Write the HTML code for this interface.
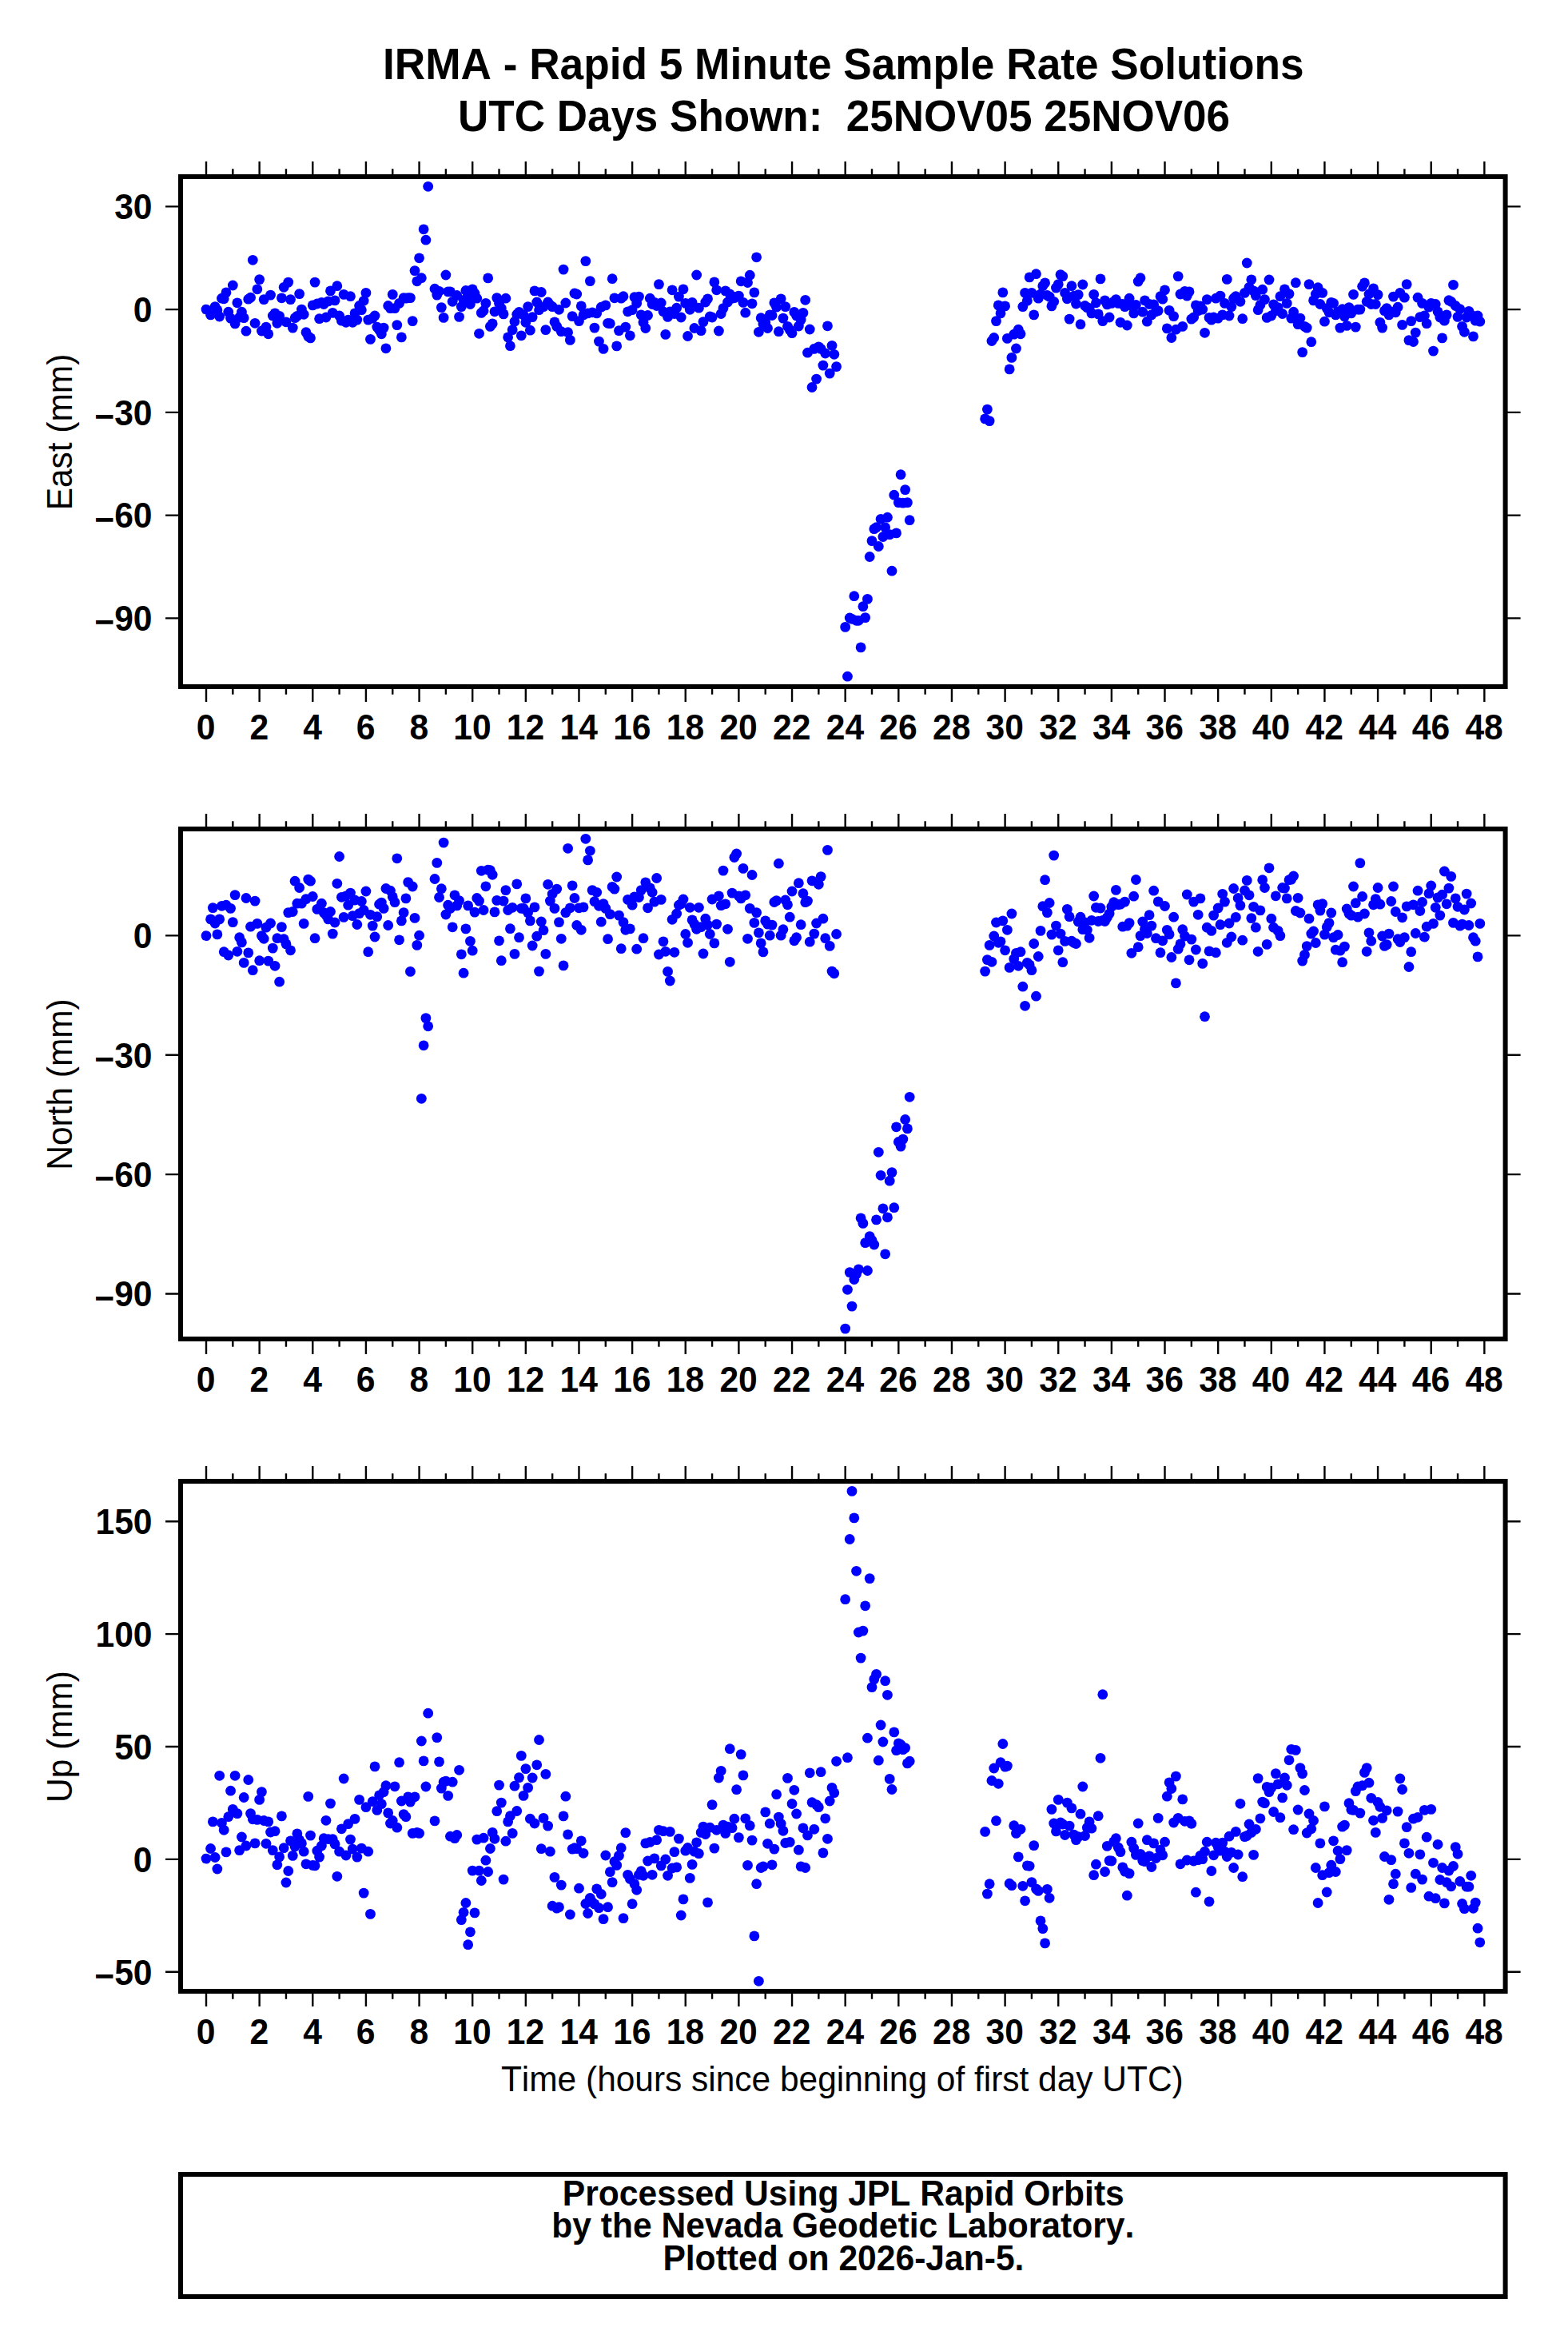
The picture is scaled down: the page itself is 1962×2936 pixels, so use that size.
<!DOCTYPE html>
<html lang="en"><head><meta charset="utf-8"><title>IRMA - Rapid 5 Minute Sample Rate Solutions</title>
<style>
html,body{margin:0;padding:0;background:#fff}
svg{display:block}
text{font-family:"Liberation Sans",Arial,Helvetica,sans-serif;fill:#000;font-kerning:none}
.b{font-weight:bold}
.a{font-size:42.6px;font-weight:bold}
.l{font-size:42.45px}
.t{font-size:53.2px;font-weight:bold}
.k{stroke:#000;stroke-width:2.4;fill:none}
.fr{stroke:#000;stroke-width:6;fill:none;stroke-linejoin:miter}
.p circle{fill:#00f}
</style></head>
<body>
<svg width="1962" height="2936" viewBox="0 0 1962 2936">
<rect width="1962" height="2936" fill="#fff"/>
<g text-anchor="middle"><text class="t" transform="translate(1055.3 99.3) scale(1 1.04)">IRMA - Rapid 5 Minute Sample Rate Solutions</text>
<text class="t" xml:space="preserve" style="font-size:53px" transform="translate(1056 163.7) scale(1 1.04)">UTC Days Shown:  25NOV05 25NOV06</text></g>
<g id="panel1">
<g class="p"><circle cx="258" cy="387.1" r="6.4"/><circle cx="263.55" cy="393.9" r="6.4"/><circle cx="269.11" cy="383.6" r="6.4"/><circle cx="271.88" cy="387.7" r="6.4"/><circle cx="274.66" cy="396" r="6.4"/><circle cx="277.44" cy="373.2" r="6.4"/><circle cx="280.21" cy="373.8" r="6.4"/><circle cx="282.99" cy="365.9" r="6.4"/><circle cx="291.32" cy="357" r="6.4"/><circle cx="285.77" cy="390.2" r="6.4"/><circle cx="288.54" cy="398.1" r="6.4"/><circle cx="294.1" cy="404.9" r="6.4"/><circle cx="296.87" cy="378.8" r="6.4"/><circle cx="299.65" cy="397" r="6.4"/><circle cx="302.43" cy="390.2" r="6.4"/><circle cx="305.2" cy="397.7" r="6.4"/><circle cx="307.98" cy="414.2" r="6.4"/><circle cx="310.76" cy="374.2" r="6.4"/><circle cx="313.53" cy="372.2" r="6.4"/><circle cx="316.31" cy="325.3" r="6.4"/><circle cx="319.09" cy="404.3" r="6.4"/><circle cx="321.86" cy="361.8" r="6.4"/><circle cx="324.64" cy="349.6" r="6.4"/><circle cx="327.42" cy="414" r="6.4"/><circle cx="330.19" cy="374.6" r="6.4"/><circle cx="332.97" cy="409.1" r="6.4"/><circle cx="335.75" cy="417.8" r="6.4"/><circle cx="338.52" cy="369.1" r="6.4"/><circle cx="341.3" cy="395" r="6.4"/><circle cx="344.08" cy="391.9" r="6.4"/><circle cx="346.85" cy="404.3" r="6.4"/><circle cx="349.63" cy="395.4" r="6.4"/><circle cx="352.41" cy="372.8" r="6.4"/><circle cx="355.18" cy="359.3" r="6.4"/><circle cx="357.96" cy="402.8" r="6.4"/><circle cx="360.74" cy="353.1" r="6.4"/><circle cx="363.51" cy="374.6" r="6.4"/><circle cx="366.29" cy="410.1" r="6.4"/><circle cx="369.07" cy="397.7" r="6.4"/><circle cx="371.84" cy="395.4" r="6.4"/><circle cx="374.62" cy="367.6" r="6.4"/><circle cx="377.4" cy="387.1" r="6.4"/><circle cx="380.17" cy="393.3" r="6.4"/><circle cx="382.95" cy="415.7" r="6.4"/><circle cx="385.73" cy="420.9" r="6.4"/><circle cx="388.5" cy="422.9" r="6.4"/><circle cx="391.28" cy="381.9" r="6.4"/><circle cx="394.06" cy="353.1" r="6.4"/><circle cx="396.83" cy="380" r="6.4"/><circle cx="399.61" cy="398.7" r="6.4"/><circle cx="402.39" cy="378.4" r="6.4"/><circle cx="405.16" cy="380.5" r="6.4"/><circle cx="407.94" cy="397" r="6.4"/><circle cx="410.72" cy="376.9" r="6.4"/><circle cx="413.49" cy="363.9" r="6.4"/><circle cx="416.27" cy="391.4" r="6.4"/><circle cx="419.05" cy="375.9" r="6.4"/><circle cx="421.82" cy="357.7" r="6.4"/><circle cx="424.6" cy="395" r="6.4"/><circle cx="427.38" cy="401.2" r="6.4"/><circle cx="430.15" cy="368.4" r="6.4"/><circle cx="432.93" cy="403.3" r="6.4"/><circle cx="435.71" cy="400.1" r="6.4"/><circle cx="438.48" cy="370.7" r="6.4"/><circle cx="441.26" cy="403.3" r="6.4"/><circle cx="444.04" cy="391.9" r="6.4"/><circle cx="446.81" cy="400.1" r="6.4"/><circle cx="449.59" cy="382.5" r="6.4"/><circle cx="452.37" cy="387.7" r="6.4"/><circle cx="455.14" cy="376.3" r="6.4"/><circle cx="457.92" cy="366.4" r="6.4"/><circle cx="460.7" cy="400.1" r="6.4"/><circle cx="463.47" cy="424.4" r="6.4"/><circle cx="466.25" cy="398.1" r="6.4"/><circle cx="469.03" cy="395" r="6.4"/><circle cx="471.8" cy="409.1" r="6.4"/><circle cx="474.58" cy="412.6" r="6.4"/><circle cx="477.36" cy="417.8" r="6.4"/><circle cx="480.13" cy="410.1" r="6.4"/><circle cx="482.91" cy="435.8" r="6.4"/><circle cx="485.69" cy="382.5" r="6.4"/><circle cx="488.46" cy="385.6" r="6.4"/><circle cx="491.24" cy="368.4" r="6.4"/><circle cx="494.02" cy="385.6" r="6.4"/><circle cx="496.79" cy="406.6" r="6.4"/><circle cx="499.57" cy="379.4" r="6.4"/><circle cx="502.35" cy="421.9" r="6.4"/><circle cx="505.12" cy="372.6" r="6.4"/><circle cx="507.9" cy="373.2" r="6.4"/><circle cx="510.68" cy="372.6" r="6.4"/><circle cx="513.45" cy="372.6" r="6.4"/><circle cx="516.23" cy="401.6" r="6.4"/><circle cx="519.01" cy="338.6" r="6.4"/><circle cx="521.78" cy="351.8" r="6.4"/><circle cx="524.56" cy="322.8" r="6.4"/><circle cx="527.34" cy="347.7" r="6.4"/><circle cx="530.11" cy="286.8" r="6.4"/><circle cx="532.89" cy="300.2" r="6.4"/><circle cx="535.67" cy="233.3" r="6.4"/><circle cx="544" cy="361.2" r="6.4"/><circle cx="546.77" cy="369.1" r="6.4"/><circle cx="549.55" cy="364.3" r="6.4"/><circle cx="552.33" cy="384.6" r="6.4"/><circle cx="555.1" cy="397.4" r="6.4"/><circle cx="557.88" cy="344" r="6.4"/><circle cx="560.66" cy="364.9" r="6.4"/><circle cx="563.43" cy="364.9" r="6.4"/><circle cx="566.21" cy="377.3" r="6.4"/><circle cx="571.76" cy="369.5" r="6.4"/><circle cx="574.54" cy="396.4" r="6.4"/><circle cx="577.32" cy="383.6" r="6.4"/><circle cx="580.09" cy="375.3" r="6.4"/><circle cx="582.87" cy="363.5" r="6.4"/><circle cx="585.65" cy="371.1" r="6.4"/><circle cx="588.42" cy="380.5" r="6.4"/><circle cx="591.2" cy="361.8" r="6.4"/><circle cx="593.98" cy="367" r="6.4"/><circle cx="596.75" cy="373.2" r="6.4"/><circle cx="599.53" cy="417.3" r="6.4"/><circle cx="602.31" cy="391.4" r="6.4"/><circle cx="605.08" cy="388.7" r="6.4"/><circle cx="607.86" cy="379.4" r="6.4"/><circle cx="610.64" cy="347.9" r="6.4"/><circle cx="613.41" cy="408.4" r="6.4"/><circle cx="616.19" cy="404.9" r="6.4"/><circle cx="618.97" cy="389.8" r="6.4"/><circle cx="621.74" cy="372.6" r="6.4"/><circle cx="624.52" cy="379.4" r="6.4"/><circle cx="627.3" cy="385.6" r="6.4"/><circle cx="630.07" cy="392.9" r="6.4"/><circle cx="632.85" cy="373.2" r="6.4"/><circle cx="635.63" cy="421.9" r="6.4"/><circle cx="638.4" cy="432.7" r="6.4"/><circle cx="641.18" cy="412.6" r="6.4"/><circle cx="643.96" cy="402.2" r="6.4"/><circle cx="646.73" cy="393.3" r="6.4"/><circle cx="649.51" cy="390.4" r="6.4"/><circle cx="652.29" cy="419.8" r="6.4"/><circle cx="655.06" cy="393.9" r="6.4"/><circle cx="657.84" cy="403.3" r="6.4"/><circle cx="660.62" cy="383.6" r="6.4"/><circle cx="663.39" cy="413.2" r="6.4"/><circle cx="666.17" cy="396.6" r="6.4"/><circle cx="668.95" cy="363.9" r="6.4"/><circle cx="671.72" cy="378" r="6.4"/><circle cx="674.5" cy="387.7" r="6.4"/><circle cx="677.28" cy="365.5" r="6.4"/><circle cx="680.05" cy="383.6" r="6.4"/><circle cx="682.83" cy="412.6" r="6.4"/><circle cx="685.61" cy="378" r="6.4"/><circle cx="688.38" cy="381.5" r="6.4"/><circle cx="691.16" cy="383.6" r="6.4"/><circle cx="693.94" cy="402.8" r="6.4"/><circle cx="696.71" cy="408.4" r="6.4"/><circle cx="699.49" cy="387.3" r="6.4"/><circle cx="702.27" cy="414.7" r="6.4"/><circle cx="705.04" cy="337.1" r="6.4"/><circle cx="707.82" cy="379" r="6.4"/><circle cx="710.6" cy="415.7" r="6.4"/><circle cx="713.37" cy="425.4" r="6.4"/><circle cx="716.15" cy="395.6" r="6.4"/><circle cx="718.93" cy="367" r="6.4"/><circle cx="721.7" cy="368" r="6.4"/><circle cx="724.48" cy="401.6" r="6.4"/><circle cx="727.26" cy="382.9" r="6.4"/><circle cx="730.03" cy="393.9" r="6.4"/><circle cx="732.81" cy="326.6" r="6.4"/><circle cx="735.59" cy="391.9" r="6.4"/><circle cx="738.36" cy="351.6" r="6.4"/><circle cx="741.14" cy="390.8" r="6.4"/><circle cx="743.92" cy="410.1" r="6.4"/><circle cx="746.69" cy="391.9" r="6.4"/><circle cx="749.47" cy="427.1" r="6.4"/><circle cx="752.25" cy="384.2" r="6.4"/><circle cx="755.02" cy="436.4" r="6.4"/><circle cx="757.8" cy="381.9" r="6.4"/><circle cx="760.58" cy="404.3" r="6.4"/><circle cx="763.35" cy="404.7" r="6.4"/><circle cx="766.13" cy="348.7" r="6.4"/><circle cx="768.91" cy="372.8" r="6.4"/><circle cx="771.68" cy="432.9" r="6.4"/><circle cx="774.46" cy="413.6" r="6.4"/><circle cx="777.24" cy="373.2" r="6.4"/><circle cx="780.01" cy="370.7" r="6.4"/><circle cx="782.79" cy="409.1" r="6.4"/><circle cx="785.57" cy="389.8" r="6.4"/><circle cx="788.34" cy="419.8" r="6.4"/><circle cx="791.12" cy="387.7" r="6.4"/><circle cx="793.9" cy="371.7" r="6.4"/><circle cx="796.67" cy="379.4" r="6.4"/><circle cx="799.45" cy="371.1" r="6.4"/><circle cx="802.23" cy="393.9" r="6.4"/><circle cx="805" cy="403.3" r="6.4"/><circle cx="807.78" cy="410.5" r="6.4"/><circle cx="810.56" cy="394.5" r="6.4"/><circle cx="813.33" cy="373.2" r="6.4"/><circle cx="816.11" cy="380.5" r="6.4"/><circle cx="818.89" cy="378.4" r="6.4"/><circle cx="821.66" cy="382.5" r="6.4"/><circle cx="824.44" cy="355.6" r="6.4"/><circle cx="827.22" cy="379" r="6.4"/><circle cx="829.99" cy="389.8" r="6.4"/><circle cx="832.77" cy="418.4" r="6.4"/><circle cx="835.55" cy="396.4" r="6.4"/><circle cx="838.32" cy="389.8" r="6.4"/><circle cx="841.1" cy="362.8" r="6.4"/><circle cx="843.88" cy="392.5" r="6.4"/><circle cx="846.65" cy="385.2" r="6.4"/><circle cx="849.43" cy="371.1" r="6.4"/><circle cx="852.21" cy="397" r="6.4"/><circle cx="854.98" cy="361.8" r="6.4"/><circle cx="857.76" cy="379.4" r="6.4"/><circle cx="860.54" cy="420.5" r="6.4"/><circle cx="863.31" cy="387.3" r="6.4"/><circle cx="866.09" cy="378.4" r="6.4"/><circle cx="868.87" cy="410.5" r="6.4"/><circle cx="871.64" cy="344" r="6.4"/><circle cx="874.42" cy="385.2" r="6.4"/><circle cx="877.2" cy="413.6" r="6.4"/><circle cx="879.97" cy="402.6" r="6.4"/><circle cx="882.75" cy="378" r="6.4"/><circle cx="885.53" cy="373.8" r="6.4"/><circle cx="888.3" cy="396" r="6.4"/><circle cx="891.08" cy="397" r="6.4"/><circle cx="893.86" cy="352.9" r="6.4"/><circle cx="896.63" cy="362.8" r="6.4"/><circle cx="899.41" cy="414" r="6.4"/><circle cx="902.19" cy="392.5" r="6.4"/><circle cx="904.96" cy="385.6" r="6.4"/><circle cx="907.74" cy="363.9" r="6.4"/><circle cx="910.52" cy="378" r="6.4"/><circle cx="913.29" cy="368" r="6.4"/><circle cx="916.07" cy="373.2" r="6.4"/><circle cx="918.85" cy="372.6" r="6.4"/><circle cx="921.62" cy="371.1" r="6.4"/><circle cx="924.4" cy="370.1" r="6.4"/><circle cx="927.18" cy="351.8" r="6.4"/><circle cx="929.95" cy="378.4" r="6.4"/><circle cx="932.73" cy="391.2" r="6.4"/><circle cx="935.51" cy="353.5" r="6.4"/><circle cx="938.28" cy="344.2" r="6.4"/><circle cx="941.06" cy="379.8" r="6.4"/><circle cx="943.84" cy="365.9" r="6.4"/><circle cx="946.61" cy="321.8" r="6.4"/><circle cx="949.39" cy="415.3" r="6.4"/><circle cx="952.17" cy="397.7" r="6.4"/><circle cx="954.94" cy="405.3" r="6.4"/><circle cx="957.72" cy="403.3" r="6.4"/><circle cx="960.5" cy="410.5" r="6.4"/><circle cx="963.27" cy="393.9" r="6.4"/><circle cx="966.05" cy="394.5" r="6.4"/><circle cx="968.83" cy="378.8" r="6.4"/><circle cx="971.6" cy="384.2" r="6.4"/><circle cx="974.38" cy="414.7" r="6.4"/><circle cx="977.16" cy="373.8" r="6.4"/><circle cx="979.93" cy="398.1" r="6.4"/><circle cx="982.71" cy="383.6" r="6.4"/><circle cx="985.49" cy="408.4" r="6.4"/><circle cx="988.26" cy="412.6" r="6.4"/><circle cx="991.04" cy="416.7" r="6.4"/><circle cx="993.82" cy="390.4" r="6.4"/><circle cx="996.59" cy="395" r="6.4"/><circle cx="999.37" cy="408" r="6.4"/><circle cx="1002.15" cy="400.1" r="6.4"/><circle cx="1004.92" cy="391.4" r="6.4"/><circle cx="1007.7" cy="375.3" r="6.4"/><circle cx="1010.48" cy="441.2" r="6.4"/><circle cx="1013.25" cy="412" r="6.4"/><circle cx="1016.03" cy="484.5" r="6.4"/><circle cx="1018.81" cy="436.4" r="6.4"/><circle cx="1021.58" cy="474.1" r="6.4"/><circle cx="1024.36" cy="433.9" r="6.4"/><circle cx="1027.14" cy="436.4" r="6.4"/><circle cx="1029.91" cy="457.1" r="6.4"/><circle cx="1032.69" cy="442" r="6.4"/><circle cx="1035.47" cy="407.8" r="6.4"/><circle cx="1038.24" cy="467.1" r="6.4"/><circle cx="1041.02" cy="432.3" r="6.4"/><circle cx="1043.8" cy="443.3" r="6.4"/><circle cx="1046.57" cy="458.6" r="6.4"/><circle cx="1240.94" cy="426.5" r="6.4"/><circle cx="1243.72" cy="422.5" r="6.4"/><circle cx="1246.49" cy="401.6" r="6.4"/><circle cx="1249.27" cy="381.9" r="6.4"/><circle cx="1252.05" cy="391.9" r="6.4"/><circle cx="1254.82" cy="365.9" r="6.4"/><circle cx="1257.6" cy="382.9" r="6.4"/><circle cx="1260.38" cy="423.4" r="6.4"/><circle cx="1263.15" cy="461.9" r="6.4"/><circle cx="1265.93" cy="447.4" r="6.4"/><circle cx="1268.71" cy="418.2" r="6.4"/><circle cx="1271.48" cy="436" r="6.4"/><circle cx="1274.26" cy="412.2" r="6.4"/><circle cx="1277.04" cy="417.8" r="6.4"/><circle cx="1279.81" cy="383.6" r="6.4"/><circle cx="1282.59" cy="366.4" r="6.4"/><circle cx="1285.37" cy="376.3" r="6.4"/><circle cx="1288.14" cy="346.9" r="6.4"/><circle cx="1290.92" cy="366.4" r="6.4"/><circle cx="1293.7" cy="393.9" r="6.4"/><circle cx="1296.47" cy="342.7" r="6.4"/><circle cx="1299.25" cy="373.2" r="6.4"/><circle cx="1302.03" cy="368" r="6.4"/><circle cx="1304.8" cy="357.7" r="6.4"/><circle cx="1307.58" cy="353.9" r="6.4"/><circle cx="1310.36" cy="369.5" r="6.4"/><circle cx="1313.13" cy="371.1" r="6.4"/><circle cx="1315.91" cy="382.9" r="6.4"/><circle cx="1318.69" cy="377.3" r="6.4"/><circle cx="1321.46" cy="360.1" r="6.4"/><circle cx="1324.24" cy="355.6" r="6.4"/><circle cx="1327.02" cy="343.6" r="6.4"/><circle cx="1329.79" cy="345.6" r="6.4"/><circle cx="1332.57" cy="366.4" r="6.4"/><circle cx="1335.35" cy="373.8" r="6.4"/><circle cx="1338.12" cy="399.1" r="6.4"/><circle cx="1340.9" cy="357.7" r="6.4"/><circle cx="1343.68" cy="370.1" r="6.4"/><circle cx="1346.45" cy="380" r="6.4"/><circle cx="1349.23" cy="368.6" r="6.4"/><circle cx="1352.01" cy="405.7" r="6.4"/><circle cx="1354.78" cy="356" r="6.4"/><circle cx="1357.56" cy="382.5" r="6.4"/><circle cx="1360.34" cy="384.6" r="6.4"/><circle cx="1363.11" cy="385.6" r="6.4"/><circle cx="1365.89" cy="391.9" r="6.4"/><circle cx="1368.67" cy="368.4" r="6.4"/><circle cx="1371.44" cy="378.8" r="6.4"/><circle cx="1374.22" cy="392.9" r="6.4"/><circle cx="1377" cy="348.9" r="6.4"/><circle cx="1379.77" cy="401.6" r="6.4"/><circle cx="1382.55" cy="375.9" r="6.4"/><circle cx="1385.33" cy="380.9" r="6.4"/><circle cx="1388.1" cy="397" r="6.4"/><circle cx="1390.88" cy="379.4" r="6.4"/><circle cx="1393.66" cy="377.3" r="6.4"/><circle cx="1396.43" cy="374.6" r="6.4"/><circle cx="1399.21" cy="379.4" r="6.4"/><circle cx="1401.99" cy="403.3" r="6.4"/><circle cx="1404.76" cy="380.5" r="6.4"/><circle cx="1407.54" cy="383.6" r="6.4"/><circle cx="1410.32" cy="407" r="6.4"/><circle cx="1413.09" cy="373.2" r="6.4"/><circle cx="1415.87" cy="382.5" r="6.4"/><circle cx="1418.65" cy="391.9" r="6.4"/><circle cx="1421.42" cy="381.5" r="6.4"/><circle cx="1424.2" cy="352.1" r="6.4"/><circle cx="1426.98" cy="347.7" r="6.4"/><circle cx="1429.75" cy="390.2" r="6.4"/><circle cx="1432.53" cy="375.9" r="6.4"/><circle cx="1435.31" cy="402.2" r="6.4"/><circle cx="1438.08" cy="380.5" r="6.4"/><circle cx="1440.86" cy="393.9" r="6.4"/><circle cx="1443.64" cy="380.9" r="6.4"/><circle cx="1446.41" cy="389.8" r="6.4"/><circle cx="1449.19" cy="388.7" r="6.4"/><circle cx="1451.97" cy="370.7" r="6.4"/><circle cx="1454.74" cy="374.2" r="6.4"/><circle cx="1457.52" cy="362.8" r="6.4"/><circle cx="1460.3" cy="410.9" r="6.4"/><circle cx="1463.07" cy="388.3" r="6.4"/><circle cx="1465.85" cy="422.5" r="6.4"/><circle cx="1468.63" cy="395.6" r="6.4"/><circle cx="1471.4" cy="412.2" r="6.4"/><circle cx="1474.18" cy="345.6" r="6.4"/><circle cx="1476.96" cy="368" r="6.4"/><circle cx="1479.73" cy="408.4" r="6.4"/><circle cx="1482.51" cy="364.3" r="6.4"/><circle cx="1485.29" cy="370.1" r="6.4"/><circle cx="1488.06" cy="364.9" r="6.4"/><circle cx="1490.84" cy="399.1" r="6.4"/><circle cx="1493.62" cy="397" r="6.4"/><circle cx="1496.39" cy="381.9" r="6.4"/><circle cx="1499.17" cy="388.7" r="6.4"/><circle cx="1501.95" cy="382.9" r="6.4"/><circle cx="1504.72" cy="387.1" r="6.4"/><circle cx="1507.5" cy="416.3" r="6.4"/><circle cx="1510.28" cy="374.6" r="6.4"/><circle cx="1513.05" cy="397.4" r="6.4"/><circle cx="1515.83" cy="400.1" r="6.4"/><circle cx="1518.61" cy="397" r="6.4"/><circle cx="1521.38" cy="373.2" r="6.4"/><circle cx="1524.16" cy="398.1" r="6.4"/><circle cx="1526.94" cy="370.1" r="6.4"/><circle cx="1529.71" cy="393.9" r="6.4"/><circle cx="1532.49" cy="379.4" r="6.4"/><circle cx="1535.27" cy="349.4" r="6.4"/><circle cx="1538.04" cy="395" r="6.4"/><circle cx="1540.82" cy="383.6" r="6.4"/><circle cx="1543.6" cy="373.2" r="6.4"/><circle cx="1057.68" cy="784.4" r="6.4"/><circle cx="1060.46" cy="846.2" r="6.4"/><circle cx="1063.23" cy="773" r="6.4"/><circle cx="1066.01" cy="774.3" r="6.4"/><circle cx="1068.79" cy="745.7" r="6.4"/><circle cx="1071.56" cy="776.3" r="6.4"/><circle cx="1074.34" cy="776.3" r="6.4"/><circle cx="1077.12" cy="809.9" r="6.4"/><circle cx="1079.89" cy="758.7" r="6.4"/><circle cx="1082.67" cy="772.6" r="6.4"/><circle cx="1085.45" cy="749.4" r="6.4"/><circle cx="1088.22" cy="696.5" r="6.4"/><circle cx="1091" cy="676.6" r="6.4"/><circle cx="1093.78" cy="661.7" r="6.4"/><circle cx="1096.55" cy="659.7" r="6.4"/><circle cx="1099.33" cy="683.5" r="6.4"/><circle cx="1102.11" cy="649.3" r="6.4"/><circle cx="1104.88" cy="671.5" r="6.4"/><circle cx="1107.66" cy="659.7" r="6.4"/><circle cx="1110.44" cy="647.2" r="6.4"/><circle cx="1113.21" cy="668.6" r="6.4"/><circle cx="1115.99" cy="714.2" r="6.4"/><circle cx="1118.77" cy="619.2" r="6.4"/><circle cx="1121.54" cy="666.9" r="6.4"/><circle cx="1124.32" cy="628.6" r="6.4"/><circle cx="1127.1" cy="593.7" r="6.4"/><circle cx="1129.87" cy="629.2" r="6.4"/><circle cx="1132.65" cy="612.6" r="6.4"/><circle cx="1135.43" cy="628.6" r="6.4"/><circle cx="1138.2" cy="650.7" r="6.4"/><circle cx="1235.39" cy="512.1" r="6.4"/><circle cx="1232.61" cy="523.9" r="6.4"/><circle cx="1238.16" cy="526.6" r="6.4"/><circle cx="1546.37" cy="370.7" r="6.4"/><circle cx="1551.93" cy="377.3" r="6.4"/><circle cx="1554.7" cy="398.7" r="6.4"/><circle cx="1557.48" cy="366.4" r="6.4"/><circle cx="1560.26" cy="329" r="6.4"/><circle cx="1563.03" cy="359.3" r="6.4"/><circle cx="1565.81" cy="349.8" r="6.4"/><circle cx="1568.59" cy="363.9" r="6.4"/><circle cx="1571.36" cy="369.7" r="6.4"/><circle cx="1574.14" cy="387.7" r="6.4"/><circle cx="1576.92" cy="381.5" r="6.4"/><circle cx="1579.69" cy="362.2" r="6.4"/><circle cx="1582.47" cy="374.6" r="6.4"/><circle cx="1585.25" cy="397.4" r="6.4"/><circle cx="1588.02" cy="350" r="6.4"/><circle cx="1590.8" cy="395" r="6.4"/><circle cx="1593.58" cy="380.9" r="6.4"/><circle cx="1596.35" cy="388.7" r="6.4"/><circle cx="1599.13" cy="384.6" r="6.4"/><circle cx="1601.91" cy="370.7" r="6.4"/><circle cx="1604.68" cy="392.5" r="6.4"/><circle cx="1607.46" cy="361.8" r="6.4"/><circle cx="1610.24" cy="379.4" r="6.4"/><circle cx="1613.01" cy="367.6" r="6.4"/><circle cx="1615.79" cy="398.1" r="6.4"/><circle cx="1618.57" cy="390.2" r="6.4"/><circle cx="1621.34" cy="353.7" r="6.4"/><circle cx="1624.12" cy="405.7" r="6.4"/><circle cx="1626.9" cy="398.1" r="6.4"/><circle cx="1629.67" cy="440.6" r="6.4"/><circle cx="1632.45" cy="408.4" r="6.4"/><circle cx="1635.23" cy="410.1" r="6.4"/><circle cx="1638" cy="355.6" r="6.4"/><circle cx="1640.78" cy="427.7" r="6.4"/><circle cx="1643.56" cy="375.9" r="6.4"/><circle cx="1646.33" cy="368" r="6.4"/><circle cx="1649.11" cy="359.7" r="6.4"/><circle cx="1651.89" cy="380.5" r="6.4"/><circle cx="1654.66" cy="366.4" r="6.4"/><circle cx="1657.44" cy="402.2" r="6.4"/><circle cx="1660.22" cy="385.6" r="6.4"/><circle cx="1662.99" cy="390.8" r="6.4"/><circle cx="1665.77" cy="378.4" r="6.4"/><circle cx="1668.55" cy="379.4" r="6.4"/><circle cx="1671.32" cy="393.9" r="6.4"/><circle cx="1674.1" cy="389.8" r="6.4"/><circle cx="1676.88" cy="410.1" r="6.4"/><circle cx="1679.65" cy="386.7" r="6.4"/><circle cx="1682.43" cy="396" r="6.4"/><circle cx="1685.21" cy="407.4" r="6.4"/><circle cx="1687.98" cy="384.6" r="6.4"/><circle cx="1690.76" cy="391.9" r="6.4"/><circle cx="1693.54" cy="368.4" r="6.4"/><circle cx="1696.31" cy="409.1" r="6.4"/><circle cx="1699.09" cy="387.1" r="6.4"/><circle cx="1701.87" cy="387.1" r="6.4"/><circle cx="1704.64" cy="358.3" r="6.4"/><circle cx="1707.42" cy="353.9" r="6.4"/><circle cx="1710.2" cy="377.3" r="6.4"/><circle cx="1712.97" cy="368" r="6.4"/><circle cx="1715.75" cy="380.5" r="6.4"/><circle cx="1718.53" cy="360.8" r="6.4"/><circle cx="1721.3" cy="380.5" r="6.4"/><circle cx="1724.08" cy="368.6" r="6.4"/><circle cx="1726.86" cy="403.3" r="6.4"/><circle cx="1729.63" cy="410.1" r="6.4"/><circle cx="1732.41" cy="388.7" r="6.4"/><circle cx="1735.19" cy="385.6" r="6.4"/><circle cx="1737.96" cy="393.9" r="6.4"/><circle cx="1740.74" cy="389.8" r="6.4"/><circle cx="1743.52" cy="371.1" r="6.4"/><circle cx="1746.29" cy="390.8" r="6.4"/><circle cx="1749.07" cy="384.2" r="6.4"/><circle cx="1751.85" cy="366.4" r="6.4"/><circle cx="1754.62" cy="406.4" r="6.4"/><circle cx="1757.4" cy="372.2" r="6.4"/><circle cx="1760.18" cy="355.6" r="6.4"/><circle cx="1762.95" cy="425.6" r="6.4"/><circle cx="1765.73" cy="401.6" r="6.4"/><circle cx="1768.51" cy="427.5" r="6.4"/><circle cx="1771.28" cy="416.1" r="6.4"/><circle cx="1774.06" cy="372.2" r="6.4"/><circle cx="1776.84" cy="396.6" r="6.4"/><circle cx="1779.61" cy="379.4" r="6.4"/><circle cx="1782.39" cy="395" r="6.4"/><circle cx="1785.17" cy="404.7" r="6.4"/><circle cx="1787.94" cy="384.2" r="6.4"/><circle cx="1790.72" cy="379.4" r="6.4"/><circle cx="1793.5" cy="439.1" r="6.4"/><circle cx="1796.27" cy="380.5" r="6.4"/><circle cx="1799.05" cy="389.8" r="6.4"/><circle cx="1801.83" cy="397" r="6.4"/><circle cx="1804.6" cy="422.9" r="6.4"/><circle cx="1807.38" cy="401.2" r="6.4"/><circle cx="1810.16" cy="393.9" r="6.4"/><circle cx="1812.93" cy="375.7" r="6.4"/><circle cx="1815.71" cy="377.3" r="6.4"/><circle cx="1818.49" cy="356.4" r="6.4"/><circle cx="1821.26" cy="382.5" r="6.4"/><circle cx="1824.04" cy="396.4" r="6.4"/><circle cx="1826.82" cy="386.7" r="6.4"/><circle cx="1829.59" cy="408.4" r="6.4"/><circle cx="1832.37" cy="415.3" r="6.4"/><circle cx="1835.15" cy="397" r="6.4"/><circle cx="1837.92" cy="389.4" r="6.4"/><circle cx="1840.7" cy="393.9" r="6.4"/><circle cx="1843.48" cy="420.9" r="6.4"/><circle cx="1846.25" cy="401.2" r="6.4"/><circle cx="1849.03" cy="395" r="6.4"/><circle cx="1851.81" cy="402.2" r="6.4"/></g>
<path class="k" d="M258 221v-19M258 859v19M291.32 221v-9.8M291.32 859v9.8M324.64 221v-19M324.64 859v19M357.96 221v-9.8M357.96 859v9.8M391.28 221v-19M391.28 859v19M424.6 221v-9.8M424.6 859v9.8M457.92 221v-19M457.92 859v19M491.24 221v-9.8M491.24 859v9.8M524.56 221v-19M524.56 859v19M557.88 221v-9.8M557.88 859v9.8M591.2 221v-19M591.2 859v19M624.52 221v-9.8M624.52 859v9.8M657.84 221v-19M657.84 859v19M691.16 221v-9.8M691.16 859v9.8M724.48 221v-19M724.48 859v19M757.8 221v-9.8M757.8 859v9.8M791.12 221v-19M791.12 859v19M824.44 221v-9.8M824.44 859v9.8M857.76 221v-19M857.76 859v19M891.08 221v-9.8M891.08 859v9.8M924.4 221v-19M924.4 859v19M957.72 221v-9.8M957.72 859v9.8M991.04 221v-19M991.04 859v19M1024.36 221v-9.8M1024.36 859v9.8M1057.68 221v-19M1057.68 859v19M1091 221v-9.8M1091 859v9.8M1124.32 221v-19M1124.32 859v19M1157.64 221v-9.8M1157.64 859v9.8M1190.96 221v-19M1190.96 859v19M1224.28 221v-9.8M1224.28 859v9.8M1257.6 221v-19M1257.6 859v19M1290.92 221v-9.8M1290.92 859v9.8M1324.24 221v-19M1324.24 859v19M1357.56 221v-9.8M1357.56 859v9.8M1390.88 221v-19M1390.88 859v19M1424.2 221v-9.8M1424.2 859v9.8M1457.52 221v-19M1457.52 859v19M1490.84 221v-9.8M1490.84 859v9.8M1524.16 221v-19M1524.16 859v19M1557.48 221v-9.8M1557.48 859v9.8M1590.8 221v-19M1590.8 859v19M1624.12 221v-9.8M1624.12 859v9.8M1657.44 221v-19M1657.44 859v19M1690.76 221v-9.8M1690.76 859v9.8M1724.08 221v-19M1724.08 859v19M1757.4 221v-9.8M1757.4 859v9.8M1790.72 221v-19M1790.72 859v19M1824.04 221v-9.8M1824.04 859v9.8M1857.36 221v-19M1857.36 859v19M226 258.4h-19M1883.6 258.4h19M226 387.15h-19M1883.6 387.15h19M226 515.9h-19M1883.6 515.9h19M226 644.65h-19M1883.6 644.65h19M226 773.4h-19M1883.6 773.4h19"/>
<rect class="fr" x="226" y="221" width="1657.6" height="638"/>
<g class="a" text-anchor="middle"><text transform="translate(257.7 924.7) scale(1 1.05)">0</text><text transform="translate(324.34 924.7) scale(1 1.05)">2</text><text transform="translate(390.98 924.7) scale(1 1.05)">4</text><text transform="translate(457.62 924.7) scale(1 1.05)">6</text><text transform="translate(524.26 924.7) scale(1 1.05)">8</text><text transform="translate(590.9 924.7) scale(1 1.05)">10</text><text transform="translate(657.54 924.7) scale(1 1.05)">12</text><text transform="translate(724.18 924.7) scale(1 1.05)">14</text><text transform="translate(790.82 924.7) scale(1 1.05)">16</text><text transform="translate(857.46 924.7) scale(1 1.05)">18</text><text transform="translate(924.1 924.7) scale(1 1.05)">20</text><text transform="translate(990.74 924.7) scale(1 1.05)">22</text><text transform="translate(1057.38 924.7) scale(1 1.05)">24</text><text transform="translate(1124.02 924.7) scale(1 1.05)">26</text><text transform="translate(1190.66 924.7) scale(1 1.05)">28</text><text transform="translate(1257.3 924.7) scale(1 1.05)">30</text><text transform="translate(1323.94 924.7) scale(1 1.05)">32</text><text transform="translate(1390.58 924.7) scale(1 1.05)">34</text><text transform="translate(1457.22 924.7) scale(1 1.05)">36</text><text transform="translate(1523.86 924.7) scale(1 1.05)">38</text><text transform="translate(1590.5 924.7) scale(1 1.05)">40</text><text transform="translate(1657.14 924.7) scale(1 1.05)">42</text><text transform="translate(1723.78 924.7) scale(1 1.05)">44</text><text transform="translate(1790.42 924.7) scale(1 1.05)">46</text><text transform="translate(1857.06 924.7) scale(1 1.05)">48</text></g>
<g class="a" text-anchor="end"><text transform="translate(190.5 274.2) scale(1 1.05)">30</text><text transform="translate(190.5 402.95) scale(1 1.05)">0</text><text transform="translate(190.5 531.7) scale(1 1.05)"><tspan dy="4">−</tspan><tspan dy="-4">30</tspan></text><text transform="translate(190.5 660.45) scale(1 1.05)"><tspan dy="4">−</tspan><tspan dy="-4">60</tspan></text><text transform="translate(190.5 789.2) scale(1 1.05)"><tspan dy="4">−</tspan><tspan dy="-4">90</tspan></text></g>
<text class="l" text-anchor="middle" transform="translate(90.2 540.5) rotate(-90) scale(1 1.03)">East (mm)</text>
</g>
<g id="panel2">
<g class="p"><circle cx="258" cy="1170.6" r="6.4"/><circle cx="263.55" cy="1149.9" r="6.4"/><circle cx="266.33" cy="1135.6" r="6.4"/><circle cx="269.11" cy="1155" r="6.4"/><circle cx="271.88" cy="1168.9" r="6.4"/><circle cx="274.66" cy="1149.9" r="6.4"/><circle cx="277.44" cy="1133.3" r="6.4"/><circle cx="280.21" cy="1190.7" r="6.4"/><circle cx="282.99" cy="1132.2" r="6.4"/><circle cx="285.77" cy="1195" r="6.4"/><circle cx="288.54" cy="1136.4" r="6.4"/><circle cx="291.32" cy="1153.6" r="6.4"/><circle cx="294.1" cy="1119.6" r="6.4"/><circle cx="296.87" cy="1190.3" r="6.4"/><circle cx="299.65" cy="1172.7" r="6.4"/><circle cx="302.43" cy="1178.9" r="6.4"/><circle cx="305.2" cy="1204.4" r="6.4"/><circle cx="307.98" cy="1123.5" r="6.4"/><circle cx="310.76" cy="1191.9" r="6.4"/><circle cx="313.53" cy="1159.2" r="6.4"/><circle cx="316.31" cy="1213.7" r="6.4"/><circle cx="319.09" cy="1127.1" r="6.4"/><circle cx="321.86" cy="1155.4" r="6.4"/><circle cx="324.64" cy="1201.7" r="6.4"/><circle cx="327.42" cy="1170.6" r="6.4"/><circle cx="330.19" cy="1174.3" r="6.4"/><circle cx="332.97" cy="1160.2" r="6.4"/><circle cx="335.75" cy="1202.1" r="6.4"/><circle cx="338.52" cy="1155" r="6.4"/><circle cx="341.3" cy="1186.1" r="6.4"/><circle cx="344.08" cy="1208.3" r="6.4"/><circle cx="346.85" cy="1173.7" r="6.4"/><circle cx="349.63" cy="1228.2" r="6.4"/><circle cx="352.41" cy="1159.6" r="6.4"/><circle cx="355.18" cy="1174.7" r="6.4"/><circle cx="357.96" cy="1180.9" r="6.4"/><circle cx="360.74" cy="1141.6" r="6.4"/><circle cx="363.51" cy="1188.8" r="6.4"/><circle cx="366.29" cy="1140.5" r="6.4"/><circle cx="369.07" cy="1102.2" r="6.4"/><circle cx="371.84" cy="1130.2" r="6.4"/><circle cx="374.62" cy="1110.5" r="6.4"/><circle cx="377.4" cy="1130.2" r="6.4"/><circle cx="380.17" cy="1155.4" r="6.4"/><circle cx="382.95" cy="1124.6" r="6.4"/><circle cx="385.73" cy="1100.1" r="6.4"/><circle cx="388.5" cy="1102.2" r="6.4"/><circle cx="391.28" cy="1121.5" r="6.4"/><circle cx="394.06" cy="1173.7" r="6.4"/><circle cx="396.83" cy="1137.4" r="6.4"/><circle cx="399.61" cy="1136.4" r="6.4"/><circle cx="402.39" cy="1130.2" r="6.4"/><circle cx="405.16" cy="1141.6" r="6.4"/><circle cx="407.94" cy="1144.7" r="6.4"/><circle cx="410.72" cy="1149.9" r="6.4"/><circle cx="413.49" cy="1140.5" r="6.4"/><circle cx="416.27" cy="1168.1" r="6.4"/><circle cx="419.05" cy="1154" r="6.4"/><circle cx="421.82" cy="1105.3" r="6.4"/><circle cx="424.6" cy="1071.5" r="6.4"/><circle cx="427.38" cy="1122.3" r="6.4"/><circle cx="430.15" cy="1147.4" r="6.4"/><circle cx="432.93" cy="1120.8" r="6.4"/><circle cx="435.71" cy="1132.2" r="6.4"/><circle cx="438.48" cy="1117.1" r="6.4"/><circle cx="441.26" cy="1145.7" r="6.4"/><circle cx="444.04" cy="1126" r="6.4"/><circle cx="446.81" cy="1156.5" r="6.4"/><circle cx="449.59" cy="1142.6" r="6.4"/><circle cx="452.37" cy="1127.5" r="6.4"/><circle cx="455.14" cy="1138.5" r="6.4"/><circle cx="457.92" cy="1115" r="6.4"/><circle cx="460.7" cy="1190.7" r="6.4"/><circle cx="463.47" cy="1144.3" r="6.4"/><circle cx="466.25" cy="1158.1" r="6.4"/><circle cx="469.03" cy="1172" r="6.4"/><circle cx="471.8" cy="1146.7" r="6.4"/><circle cx="474.58" cy="1131.2" r="6.4"/><circle cx="477.36" cy="1129.1" r="6.4"/><circle cx="480.13" cy="1136.4" r="6.4"/><circle cx="482.91" cy="1111.5" r="6.4"/><circle cx="485.69" cy="1157.5" r="6.4"/><circle cx="488.46" cy="1114.2" r="6.4"/><circle cx="491.24" cy="1121.9" r="6.4"/><circle cx="494.02" cy="1128.7" r="6.4"/><circle cx="496.79" cy="1073.8" r="6.4"/><circle cx="499.57" cy="1175.8" r="6.4"/><circle cx="502.35" cy="1151.9" r="6.4"/><circle cx="505.12" cy="1141.6" r="6.4"/><circle cx="507.9" cy="1123.9" r="6.4"/><circle cx="510.68" cy="1103.6" r="6.4"/><circle cx="513.45" cy="1215.4" r="6.4"/><circle cx="516.23" cy="1109" r="6.4"/><circle cx="519.01" cy="1148.4" r="6.4"/><circle cx="521.78" cy="1182.4" r="6.4"/><circle cx="524.56" cy="1170.2" r="6.4"/><circle cx="527.34" cy="1374.3" r="6.4"/><circle cx="530.11" cy="1307.8" r="6.4"/><circle cx="532.89" cy="1273.6" r="6.4"/><circle cx="535.67" cy="1283.8" r="6.4"/><circle cx="544" cy="1099.5" r="6.4"/><circle cx="546.77" cy="1079.4" r="6.4"/><circle cx="549.55" cy="1122.5" r="6.4"/><circle cx="552.33" cy="1111.7" r="6.4"/><circle cx="555.1" cy="1054.1" r="6.4"/><circle cx="557.88" cy="1144" r="6.4"/><circle cx="560.66" cy="1132.2" r="6.4"/><circle cx="563.43" cy="1136.4" r="6.4"/><circle cx="566.21" cy="1159.8" r="6.4"/><circle cx="568.99" cy="1119.8" r="6.4"/><circle cx="571.76" cy="1132.9" r="6.4"/><circle cx="574.54" cy="1126.6" r="6.4"/><circle cx="577.32" cy="1193.8" r="6.4"/><circle cx="580.09" cy="1217.2" r="6.4"/><circle cx="582.87" cy="1161.9" r="6.4"/><circle cx="585.65" cy="1132.9" r="6.4"/><circle cx="588.42" cy="1177.4" r="6.4"/><circle cx="591.2" cy="1189.2" r="6.4"/><circle cx="593.98" cy="1141.1" r="6.4"/><circle cx="596.75" cy="1123.5" r="6.4"/><circle cx="599.53" cy="1127.1" r="6.4"/><circle cx="602.31" cy="1089.3" r="6.4"/><circle cx="605.08" cy="1138.5" r="6.4"/><circle cx="607.86" cy="1108.8" r="6.4"/><circle cx="610.64" cy="1088.1" r="6.4"/><circle cx="613.41" cy="1088.7" r="6.4"/><circle cx="616.19" cy="1094.3" r="6.4"/><circle cx="618.97" cy="1140.9" r="6.4"/><circle cx="621.74" cy="1126.4" r="6.4"/><circle cx="624.52" cy="1176.8" r="6.4"/><circle cx="627.3" cy="1201.7" r="6.4"/><circle cx="630.07" cy="1127.1" r="6.4"/><circle cx="632.85" cy="1113.6" r="6.4"/><circle cx="635.63" cy="1138.5" r="6.4"/><circle cx="638.4" cy="1161.7" r="6.4"/><circle cx="641.18" cy="1135.3" r="6.4"/><circle cx="643.96" cy="1193.4" r="6.4"/><circle cx="646.73" cy="1105.9" r="6.4"/><circle cx="649.51" cy="1172.7" r="6.4"/><circle cx="652.29" cy="1136.4" r="6.4"/><circle cx="655.06" cy="1136.4" r="6.4"/><circle cx="657.84" cy="1123.9" r="6.4"/><circle cx="660.62" cy="1141.6" r="6.4"/><circle cx="663.39" cy="1151.9" r="6.4"/><circle cx="666.17" cy="1183" r="6.4"/><circle cx="668.95" cy="1134.9" r="6.4"/><circle cx="671.72" cy="1171.2" r="6.4"/><circle cx="674.5" cy="1215.1" r="6.4"/><circle cx="677.28" cy="1153" r="6.4"/><circle cx="680.05" cy="1163.7" r="6.4"/><circle cx="682.83" cy="1193.4" r="6.4"/><circle cx="685.61" cy="1106.3" r="6.4"/><circle cx="688.38" cy="1127.1" r="6.4"/><circle cx="691.16" cy="1118.3" r="6.4"/><circle cx="693.94" cy="1136.4" r="6.4"/><circle cx="696.71" cy="1112.1" r="6.4"/><circle cx="699.49" cy="1153.6" r="6.4"/><circle cx="702.27" cy="1174.3" r="6.4"/><circle cx="705.04" cy="1207.9" r="6.4"/><circle cx="707.82" cy="1141.6" r="6.4"/><circle cx="710.6" cy="1061.3" r="6.4"/><circle cx="713.37" cy="1135.8" r="6.4"/><circle cx="716.15" cy="1107.8" r="6.4"/><circle cx="718.93" cy="1123.5" r="6.4"/><circle cx="721.7" cy="1157.5" r="6.4"/><circle cx="724.48" cy="1135.8" r="6.4"/><circle cx="727.26" cy="1163.3" r="6.4"/><circle cx="730.03" cy="1134.9" r="6.4"/><circle cx="732.81" cy="1049.3" r="6.4"/><circle cx="735.59" cy="1075.9" r="6.4"/><circle cx="738.36" cy="1064.3" r="6.4"/><circle cx="741.14" cy="1113.6" r="6.4"/><circle cx="743.92" cy="1127.7" r="6.4"/><circle cx="746.69" cy="1116.3" r="6.4"/><circle cx="749.47" cy="1133.3" r="6.4"/><circle cx="752.25" cy="1153.2" r="6.4"/><circle cx="755.02" cy="1130.6" r="6.4"/><circle cx="757.8" cy="1136.4" r="6.4"/><circle cx="760.58" cy="1174.7" r="6.4"/><circle cx="763.35" cy="1143.6" r="6.4"/><circle cx="766.13" cy="1109.4" r="6.4"/><circle cx="768.91" cy="1112.1" r="6.4"/><circle cx="771.68" cy="1097" r="6.4"/><circle cx="774.46" cy="1145.1" r="6.4"/><circle cx="777.24" cy="1186.7" r="6.4"/><circle cx="780.01" cy="1153.6" r="6.4"/><circle cx="782.79" cy="1163.3" r="6.4"/><circle cx="785.57" cy="1125.4" r="6.4"/><circle cx="788.34" cy="1161.9" r="6.4"/><circle cx="791.12" cy="1132.2" r="6.4"/><circle cx="793.9" cy="1121.9" r="6.4"/><circle cx="796.67" cy="1187.2" r="6.4"/><circle cx="799.45" cy="1122.5" r="6.4"/><circle cx="802.23" cy="1113.6" r="6.4"/><circle cx="805" cy="1173.7" r="6.4"/><circle cx="807.78" cy="1103.8" r="6.4"/><circle cx="810.56" cy="1135.8" r="6.4"/><circle cx="813.33" cy="1110.9" r="6.4"/><circle cx="816.11" cy="1116.3" r="6.4"/><circle cx="818.89" cy="1128.1" r="6.4"/><circle cx="821.66" cy="1098.5" r="6.4"/><circle cx="824.44" cy="1194" r="6.4"/><circle cx="827.22" cy="1125.4" r="6.4"/><circle cx="829.99" cy="1177.8" r="6.4"/><circle cx="832.77" cy="1190.3" r="6.4"/><circle cx="835.55" cy="1215.4" r="6.4"/><circle cx="838.32" cy="1227" r="6.4"/><circle cx="841.1" cy="1150.3" r="6.4"/><circle cx="843.88" cy="1191.3" r="6.4"/><circle cx="846.65" cy="1143" r="6.4"/><circle cx="849.43" cy="1132.2" r="6.4"/><circle cx="852.21" cy="1130.6" r="6.4"/><circle cx="854.98" cy="1125" r="6.4"/><circle cx="857.76" cy="1168.5" r="6.4"/><circle cx="860.54" cy="1179.3" r="6.4"/><circle cx="863.31" cy="1135.3" r="6.4"/><circle cx="866.09" cy="1150.9" r="6.4"/><circle cx="868.87" cy="1156.1" r="6.4"/><circle cx="871.64" cy="1162.3" r="6.4"/><circle cx="874.42" cy="1135.3" r="6.4"/><circle cx="877.2" cy="1159.6" r="6.4"/><circle cx="879.97" cy="1193" r="6.4"/><circle cx="882.75" cy="1149.2" r="6.4"/><circle cx="885.53" cy="1157.1" r="6.4"/><circle cx="888.3" cy="1168.5" r="6.4"/><circle cx="891.08" cy="1125" r="6.4"/><circle cx="893.86" cy="1179.9" r="6.4"/><circle cx="896.63" cy="1156.1" r="6.4"/><circle cx="899.41" cy="1120.8" r="6.4"/><circle cx="902.19" cy="1132.6" r="6.4"/><circle cx="904.96" cy="1089.1" r="6.4"/><circle cx="907.74" cy="1130.8" r="6.4"/><circle cx="910.52" cy="1162.3" r="6.4"/><circle cx="913.29" cy="1203.3" r="6.4"/><circle cx="916.07" cy="1117.1" r="6.4"/><circle cx="918.85" cy="1072.5" r="6.4"/><circle cx="921.62" cy="1068" r="6.4"/><circle cx="924.4" cy="1120.8" r="6.4"/><circle cx="927.18" cy="1123.9" r="6.4"/><circle cx="929.95" cy="1086.4" r="6.4"/><circle cx="932.73" cy="1119.8" r="6.4"/><circle cx="935.51" cy="1174.3" r="6.4"/><circle cx="938.28" cy="1136.4" r="6.4"/><circle cx="941.06" cy="1094.5" r="6.4"/><circle cx="943.84" cy="1154.4" r="6.4"/><circle cx="946.61" cy="1141.6" r="6.4"/><circle cx="949.39" cy="1166.8" r="6.4"/><circle cx="952.17" cy="1179.9" r="6.4"/><circle cx="954.94" cy="1190.9" r="6.4"/><circle cx="957.72" cy="1151.9" r="6.4"/><circle cx="960.5" cy="1156.1" r="6.4"/><circle cx="963.27" cy="1170.2" r="6.4"/><circle cx="966.05" cy="1157.1" r="6.4"/><circle cx="968.83" cy="1128.5" r="6.4"/><circle cx="971.6" cy="1126.6" r="6.4"/><circle cx="974.38" cy="1080.2" r="6.4"/><circle cx="977.16" cy="1170.2" r="6.4"/><circle cx="979.93" cy="1162.7" r="6.4"/><circle cx="982.71" cy="1126" r="6.4"/><circle cx="985.49" cy="1131.8" r="6.4"/><circle cx="988.26" cy="1147.2" r="6.4"/><circle cx="991.04" cy="1115" r="6.4"/><circle cx="993.82" cy="1176.8" r="6.4"/><circle cx="996.59" cy="1172.7" r="6.4"/><circle cx="999.37" cy="1104.7" r="6.4"/><circle cx="1002.15" cy="1156.7" r="6.4"/><circle cx="1004.92" cy="1117.7" r="6.4"/><circle cx="1007.7" cy="1128.7" r="6.4"/><circle cx="1010.48" cy="1127.1" r="6.4"/><circle cx="1013.25" cy="1178.2" r="6.4"/><circle cx="1016.03" cy="1101.8" r="6.4"/><circle cx="1018.81" cy="1168.1" r="6.4"/><circle cx="1021.58" cy="1155" r="6.4"/><circle cx="1024.36" cy="1106.3" r="6.4"/><circle cx="1027.14" cy="1096.6" r="6.4"/><circle cx="1029.91" cy="1149.2" r="6.4"/><circle cx="1032.69" cy="1173.7" r="6.4"/><circle cx="1035.47" cy="1063.4" r="6.4"/><circle cx="1038.24" cy="1183.4" r="6.4"/><circle cx="1041.02" cy="1215.1" r="6.4"/><circle cx="1043.8" cy="1217.8" r="6.4"/><circle cx="1046.57" cy="1168.5" r="6.4"/><circle cx="1232.61" cy="1215.1" r="6.4"/><circle cx="1235.39" cy="1200.6" r="6.4"/><circle cx="1238.16" cy="1182.4" r="6.4"/><circle cx="1240.94" cy="1203.3" r="6.4"/><circle cx="1243.72" cy="1171" r="6.4"/><circle cx="1246.49" cy="1154" r="6.4"/><circle cx="1249.27" cy="1179.3" r="6.4"/><circle cx="1252.05" cy="1177.8" r="6.4"/><circle cx="1254.82" cy="1151.9" r="6.4"/><circle cx="1257.6" cy="1188.8" r="6.4"/><circle cx="1260.38" cy="1163.3" r="6.4"/><circle cx="1263.15" cy="1210.4" r="6.4"/><circle cx="1265.93" cy="1143" r="6.4"/><circle cx="1268.71" cy="1199.6" r="6.4"/><circle cx="1271.48" cy="1192.3" r="6.4"/><circle cx="1274.26" cy="1208.3" r="6.4"/><circle cx="1277.04" cy="1190.7" r="6.4"/><circle cx="1279.81" cy="1234.2" r="6.4"/><circle cx="1282.59" cy="1258.3" r="6.4"/><circle cx="1285.37" cy="1204.4" r="6.4"/><circle cx="1288.14" cy="1206.9" r="6.4"/><circle cx="1290.92" cy="1213.7" r="6.4"/><circle cx="1293.7" cy="1180.5" r="6.4"/><circle cx="1296.47" cy="1246.2" r="6.4"/><circle cx="1299.25" cy="1196.5" r="6.4"/><circle cx="1302.03" cy="1164.4" r="6.4"/><circle cx="1304.8" cy="1133.7" r="6.4"/><circle cx="1307.58" cy="1100.7" r="6.4"/><circle cx="1310.36" cy="1141.6" r="6.4"/><circle cx="1313.13" cy="1129.5" r="6.4"/><circle cx="1315.91" cy="1169.1" r="6.4"/><circle cx="1318.69" cy="1070.1" r="6.4"/><circle cx="1321.46" cy="1158.1" r="6.4"/><circle cx="1324.24" cy="1188.8" r="6.4"/><circle cx="1327.02" cy="1168.1" r="6.4"/><circle cx="1329.79" cy="1203.7" r="6.4"/><circle cx="1332.57" cy="1177.4" r="6.4"/><circle cx="1335.35" cy="1137.4" r="6.4"/><circle cx="1338.12" cy="1146.7" r="6.4"/><circle cx="1340.9" cy="1177.2" r="6.4"/><circle cx="1343.68" cy="1179.3" r="6.4"/><circle cx="1346.45" cy="1180.5" r="6.4"/><circle cx="1349.23" cy="1153" r="6.4"/><circle cx="1352.01" cy="1147.2" r="6.4"/><circle cx="1354.78" cy="1162.7" r="6.4"/><circle cx="1357.56" cy="1154" r="6.4"/><circle cx="1360.34" cy="1163.3" r="6.4"/><circle cx="1363.11" cy="1173.3" r="6.4"/><circle cx="1365.89" cy="1151.3" r="6.4"/><circle cx="1368.67" cy="1121" r="6.4"/><circle cx="1371.44" cy="1135.3" r="6.4"/><circle cx="1374.22" cy="1152.5" r="6.4"/><circle cx="1377" cy="1136" r="6.4"/><circle cx="1379.77" cy="1151.3" r="6.4"/><circle cx="1382.55" cy="1152.5" r="6.4"/><circle cx="1385.33" cy="1147.8" r="6.4"/><circle cx="1388.1" cy="1143" r="6.4"/><circle cx="1390.88" cy="1134.3" r="6.4"/><circle cx="1393.66" cy="1128.7" r="6.4"/><circle cx="1396.43" cy="1113.4" r="6.4"/><circle cx="1399.21" cy="1131.6" r="6.4"/><circle cx="1401.99" cy="1131.2" r="6.4"/><circle cx="1404.76" cy="1159.2" r="6.4"/><circle cx="1407.54" cy="1128.1" r="6.4"/><circle cx="1410.32" cy="1158.1" r="6.4"/><circle cx="1413.09" cy="1154.6" r="6.4"/><circle cx="1415.87" cy="1192.3" r="6.4"/><circle cx="1418.65" cy="1121.2" r="6.4"/><circle cx="1421.42" cy="1100.5" r="6.4"/><circle cx="1424.2" cy="1184.7" r="6.4"/><circle cx="1426.98" cy="1170.6" r="6.4"/><circle cx="1429.75" cy="1153" r="6.4"/><circle cx="1432.53" cy="1162.3" r="6.4"/><circle cx="1435.31" cy="1167.5" r="6.4"/><circle cx="1438.08" cy="1144.7" r="6.4"/><circle cx="1440.86" cy="1158.1" r="6.4"/><circle cx="1443.64" cy="1114.2" r="6.4"/><circle cx="1446.41" cy="1173.7" r="6.4"/><circle cx="1449.19" cy="1127.9" r="6.4"/><circle cx="1451.97" cy="1191.7" r="6.4"/><circle cx="1454.74" cy="1176.8" r="6.4"/><circle cx="1457.52" cy="1133.5" r="6.4"/><circle cx="1460.3" cy="1163.3" r="6.4"/><circle cx="1463.07" cy="1168.9" r="6.4"/><circle cx="1465.85" cy="1197.5" r="6.4"/><circle cx="1468.63" cy="1147.2" r="6.4"/><circle cx="1471.4" cy="1229.9" r="6.4"/><circle cx="1474.18" cy="1187.2" r="6.4"/><circle cx="1476.96" cy="1180.9" r="6.4"/><circle cx="1479.73" cy="1162.7" r="6.4"/><circle cx="1482.51" cy="1171" r="6.4"/><circle cx="1485.29" cy="1119" r="6.4"/><circle cx="1488.06" cy="1200.8" r="6.4"/><circle cx="1490.84" cy="1175.1" r="6.4"/><circle cx="1493.62" cy="1128.1" r="6.4"/><circle cx="1496.39" cy="1188" r="6.4"/><circle cx="1499.17" cy="1144.3" r="6.4"/><circle cx="1501.95" cy="1123.9" r="6.4"/><circle cx="1504.72" cy="1205.4" r="6.4"/><circle cx="1507.5" cy="1271.7" r="6.4"/><circle cx="1510.28" cy="1160.2" r="6.4"/><circle cx="1513.05" cy="1189.9" r="6.4"/><circle cx="1515.83" cy="1164.4" r="6.4"/><circle cx="1518.61" cy="1145.1" r="6.4"/><circle cx="1521.38" cy="1191.7" r="6.4"/><circle cx="1524.16" cy="1136" r="6.4"/><circle cx="1526.94" cy="1156.7" r="6.4"/><circle cx="1529.71" cy="1118.3" r="6.4"/><circle cx="1532.49" cy="1128.1" r="6.4"/><circle cx="1535.27" cy="1179.3" r="6.4"/><circle cx="1538.04" cy="1155" r="6.4"/><circle cx="1540.82" cy="1172" r="6.4"/><circle cx="1057.68" cy="1662.1" r="6.4"/><circle cx="1060.46" cy="1613.3" r="6.4"/><circle cx="1063.23" cy="1591.6" r="6.4"/><circle cx="1066.01" cy="1634.1" r="6.4"/><circle cx="1068.79" cy="1600.5" r="6.4"/><circle cx="1071.56" cy="1593.7" r="6.4"/><circle cx="1074.34" cy="1587.8" r="6.4"/><circle cx="1077.12" cy="1523.8" r="6.4"/><circle cx="1079.89" cy="1530.4" r="6.4"/><circle cx="1082.67" cy="1554.7" r="6.4"/><circle cx="1085.45" cy="1589.5" r="6.4"/><circle cx="1088.22" cy="1546.6" r="6.4"/><circle cx="1091" cy="1551.6" r="6.4"/><circle cx="1093.78" cy="1557" r="6.4"/><circle cx="1096.55" cy="1525.9" r="6.4"/><circle cx="1099.33" cy="1441.3" r="6.4"/><circle cx="1102.11" cy="1470.3" r="6.4"/><circle cx="1104.88" cy="1511.8" r="6.4"/><circle cx="1107.66" cy="1568.8" r="6.4"/><circle cx="1110.44" cy="1522.8" r="6.4"/><circle cx="1113.21" cy="1477.2" r="6.4"/><circle cx="1115.99" cy="1466.6" r="6.4"/><circle cx="1118.77" cy="1510.7" r="6.4"/><circle cx="1121.54" cy="1409.8" r="6.4"/><circle cx="1124.32" cy="1428.5" r="6.4"/><circle cx="1127.1" cy="1434.1" r="6.4"/><circle cx="1129.87" cy="1425.1" r="6.4"/><circle cx="1132.65" cy="1400.5" r="6.4"/><circle cx="1135.43" cy="1411.9" r="6.4"/><circle cx="1138.2" cy="1372.3" r="6.4"/><circle cx="1543.6" cy="1111.5" r="6.4"/><circle cx="1546.37" cy="1147.4" r="6.4"/><circle cx="1549.15" cy="1123.5" r="6.4"/><circle cx="1551.93" cy="1132.6" r="6.4"/><circle cx="1554.7" cy="1176.2" r="6.4"/><circle cx="1557.48" cy="1114" r="6.4"/><circle cx="1560.26" cy="1101.4" r="6.4"/><circle cx="1563.03" cy="1119.8" r="6.4"/><circle cx="1565.81" cy="1148.6" r="6.4"/><circle cx="1568.59" cy="1134.3" r="6.4"/><circle cx="1571.36" cy="1160.2" r="6.4"/><circle cx="1574.14" cy="1190.3" r="6.4"/><circle cx="1576.92" cy="1138.9" r="6.4"/><circle cx="1579.69" cy="1100.7" r="6.4"/><circle cx="1582.47" cy="1110.5" r="6.4"/><circle cx="1585.25" cy="1181.4" r="6.4"/><circle cx="1588.02" cy="1085.8" r="6.4"/><circle cx="1590.8" cy="1149.2" r="6.4"/><circle cx="1593.58" cy="1160.2" r="6.4"/><circle cx="1596.35" cy="1120.8" r="6.4"/><circle cx="1599.13" cy="1164.4" r="6.4"/><circle cx="1601.91" cy="1170.6" r="6.4"/><circle cx="1604.68" cy="1110.5" r="6.4"/><circle cx="1607.46" cy="1111.1" r="6.4"/><circle cx="1610.24" cy="1123.9" r="6.4"/><circle cx="1613.01" cy="1100.7" r="6.4"/><circle cx="1615.79" cy="1100.1" r="6.4"/><circle cx="1618.57" cy="1096" r="6.4"/><circle cx="1621.34" cy="1139.5" r="6.4"/><circle cx="1624.12" cy="1123.3" r="6.4"/><circle cx="1626.9" cy="1142" r="6.4"/><circle cx="1629.67" cy="1202.1" r="6.4"/><circle cx="1632.45" cy="1194.4" r="6.4"/><circle cx="1635.23" cy="1183.6" r="6.4"/><circle cx="1638" cy="1149.2" r="6.4"/><circle cx="1640.78" cy="1168.1" r="6.4"/><circle cx="1643.56" cy="1165" r="6.4"/><circle cx="1646.33" cy="1179.5" r="6.4"/><circle cx="1649.11" cy="1131.8" r="6.4"/><circle cx="1651.89" cy="1139.1" r="6.4"/><circle cx="1654.66" cy="1130.6" r="6.4"/><circle cx="1657.44" cy="1169.1" r="6.4"/><circle cx="1660.22" cy="1159.8" r="6.4"/><circle cx="1662.99" cy="1154.6" r="6.4"/><circle cx="1665.77" cy="1142" r="6.4"/><circle cx="1668.55" cy="1172.7" r="6.4"/><circle cx="1671.32" cy="1188.2" r="6.4"/><circle cx="1674.1" cy="1169.5" r="6.4"/><circle cx="1676.88" cy="1189.2" r="6.4"/><circle cx="1679.65" cy="1203.7" r="6.4"/><circle cx="1682.43" cy="1184.1" r="6.4"/><circle cx="1685.21" cy="1137" r="6.4"/><circle cx="1687.98" cy="1143" r="6.4"/><circle cx="1690.76" cy="1145.1" r="6.4"/><circle cx="1693.54" cy="1109" r="6.4"/><circle cx="1696.31" cy="1129.7" r="6.4"/><circle cx="1699.09" cy="1147.2" r="6.4"/><circle cx="1701.87" cy="1079.6" r="6.4"/><circle cx="1704.64" cy="1121.5" r="6.4"/><circle cx="1707.42" cy="1143" r="6.4"/><circle cx="1710.2" cy="1190.3" r="6.4"/><circle cx="1712.97" cy="1166.8" r="6.4"/><circle cx="1715.75" cy="1177.2" r="6.4"/><circle cx="1718.53" cy="1131.8" r="6.4"/><circle cx="1721.3" cy="1124.6" r="6.4"/><circle cx="1724.08" cy="1110.5" r="6.4"/><circle cx="1726.86" cy="1131.2" r="6.4"/><circle cx="1729.63" cy="1171" r="6.4"/><circle cx="1732.41" cy="1183.4" r="6.4"/><circle cx="1735.19" cy="1181.6" r="6.4"/><circle cx="1737.96" cy="1168.1" r="6.4"/><circle cx="1740.74" cy="1127.5" r="6.4"/><circle cx="1743.52" cy="1109" r="6.4"/><circle cx="1746.29" cy="1140.5" r="6.4"/><circle cx="1749.07" cy="1174.7" r="6.4"/><circle cx="1751.85" cy="1178.5" r="6.4"/><circle cx="1754.62" cy="1147.8" r="6.4"/><circle cx="1757.4" cy="1172.7" r="6.4"/><circle cx="1760.18" cy="1133.9" r="6.4"/><circle cx="1762.95" cy="1209.5" r="6.4"/><circle cx="1765.73" cy="1190.7" r="6.4"/><circle cx="1768.51" cy="1131.8" r="6.4"/><circle cx="1771.28" cy="1167.5" r="6.4"/><circle cx="1774.06" cy="1114.2" r="6.4"/><circle cx="1776.84" cy="1139.5" r="6.4"/><circle cx="1779.61" cy="1128.5" r="6.4"/><circle cx="1782.39" cy="1172.2" r="6.4"/><circle cx="1785.17" cy="1159.2" r="6.4"/><circle cx="1787.94" cy="1117.7" r="6.4"/><circle cx="1790.72" cy="1108" r="6.4"/><circle cx="1793.5" cy="1155.4" r="6.4"/><circle cx="1796.27" cy="1135.3" r="6.4"/><circle cx="1799.05" cy="1122.9" r="6.4"/><circle cx="1801.83" cy="1145.1" r="6.4"/><circle cx="1804.6" cy="1119.2" r="6.4"/><circle cx="1807.38" cy="1090" r="6.4"/><circle cx="1810.16" cy="1130.8" r="6.4"/><circle cx="1812.93" cy="1111.1" r="6.4"/><circle cx="1815.71" cy="1096.4" r="6.4"/><circle cx="1818.49" cy="1154.4" r="6.4"/><circle cx="1821.26" cy="1123.9" r="6.4"/><circle cx="1824.04" cy="1134.3" r="6.4"/><circle cx="1826.82" cy="1158.1" r="6.4"/><circle cx="1829.59" cy="1156.1" r="6.4"/><circle cx="1832.37" cy="1138" r="6.4"/><circle cx="1835.15" cy="1118.1" r="6.4"/><circle cx="1837.92" cy="1157.5" r="6.4"/><circle cx="1840.7" cy="1130" r="6.4"/><circle cx="1843.48" cy="1172.7" r="6.4"/><circle cx="1846.25" cy="1177.2" r="6.4"/><circle cx="1849.03" cy="1196.9" r="6.4"/><circle cx="1851.81" cy="1155.4" r="6.4"/></g>
<path class="k" d="M258 1037v-19M258 1675v19M291.32 1037v-9.8M291.32 1675v9.8M324.64 1037v-19M324.64 1675v19M357.96 1037v-9.8M357.96 1675v9.8M391.28 1037v-19M391.28 1675v19M424.6 1037v-9.8M424.6 1675v9.8M457.92 1037v-19M457.92 1675v19M491.24 1037v-9.8M491.24 1675v9.8M524.56 1037v-19M524.56 1675v19M557.88 1037v-9.8M557.88 1675v9.8M591.2 1037v-19M591.2 1675v19M624.52 1037v-9.8M624.52 1675v9.8M657.84 1037v-19M657.84 1675v19M691.16 1037v-9.8M691.16 1675v9.8M724.48 1037v-19M724.48 1675v19M757.8 1037v-9.8M757.8 1675v9.8M791.12 1037v-19M791.12 1675v19M824.44 1037v-9.8M824.44 1675v9.8M857.76 1037v-19M857.76 1675v19M891.08 1037v-9.8M891.08 1675v9.8M924.4 1037v-19M924.4 1675v19M957.72 1037v-9.8M957.72 1675v9.8M991.04 1037v-19M991.04 1675v19M1024.36 1037v-9.8M1024.36 1675v9.8M1057.68 1037v-19M1057.68 1675v19M1091 1037v-9.8M1091 1675v9.8M1124.32 1037v-19M1124.32 1675v19M1157.64 1037v-9.8M1157.64 1675v9.8M1190.96 1037v-19M1190.96 1675v19M1224.28 1037v-9.8M1224.28 1675v9.8M1257.6 1037v-19M1257.6 1675v19M1290.92 1037v-9.8M1290.92 1675v9.8M1324.24 1037v-19M1324.24 1675v19M1357.56 1037v-9.8M1357.56 1675v9.8M1390.88 1037v-19M1390.88 1675v19M1424.2 1037v-9.8M1424.2 1675v9.8M1457.52 1037v-19M1457.52 1675v19M1490.84 1037v-9.8M1490.84 1675v9.8M1524.16 1037v-19M1524.16 1675v19M1557.48 1037v-9.8M1557.48 1675v9.8M1590.8 1037v-19M1590.8 1675v19M1624.12 1037v-9.8M1624.12 1675v9.8M1657.44 1037v-19M1657.44 1675v19M1690.76 1037v-9.8M1690.76 1675v9.8M1724.08 1037v-19M1724.08 1675v19M1757.4 1037v-9.8M1757.4 1675v9.8M1790.72 1037v-19M1790.72 1675v19M1824.04 1037v-9.8M1824.04 1675v9.8M1857.36 1037v-19M1857.36 1675v19M226 1170.4h-19M1883.6 1170.4h19M226 1319.77h-19M1883.6 1319.77h19M226 1469.13h-19M1883.6 1469.13h19M226 1618.5h-19M1883.6 1618.5h19"/>
<rect class="fr" x="226" y="1037" width="1657.6" height="638"/>
<g class="a" text-anchor="middle"><text transform="translate(257.7 1740.7) scale(1 1.05)">0</text><text transform="translate(324.34 1740.7) scale(1 1.05)">2</text><text transform="translate(390.98 1740.7) scale(1 1.05)">4</text><text transform="translate(457.62 1740.7) scale(1 1.05)">6</text><text transform="translate(524.26 1740.7) scale(1 1.05)">8</text><text transform="translate(590.9 1740.7) scale(1 1.05)">10</text><text transform="translate(657.54 1740.7) scale(1 1.05)">12</text><text transform="translate(724.18 1740.7) scale(1 1.05)">14</text><text transform="translate(790.82 1740.7) scale(1 1.05)">16</text><text transform="translate(857.46 1740.7) scale(1 1.05)">18</text><text transform="translate(924.1 1740.7) scale(1 1.05)">20</text><text transform="translate(990.74 1740.7) scale(1 1.05)">22</text><text transform="translate(1057.38 1740.7) scale(1 1.05)">24</text><text transform="translate(1124.02 1740.7) scale(1 1.05)">26</text><text transform="translate(1190.66 1740.7) scale(1 1.05)">28</text><text transform="translate(1257.3 1740.7) scale(1 1.05)">30</text><text transform="translate(1323.94 1740.7) scale(1 1.05)">32</text><text transform="translate(1390.58 1740.7) scale(1 1.05)">34</text><text transform="translate(1457.22 1740.7) scale(1 1.05)">36</text><text transform="translate(1523.86 1740.7) scale(1 1.05)">38</text><text transform="translate(1590.5 1740.7) scale(1 1.05)">40</text><text transform="translate(1657.14 1740.7) scale(1 1.05)">42</text><text transform="translate(1723.78 1740.7) scale(1 1.05)">44</text><text transform="translate(1790.42 1740.7) scale(1 1.05)">46</text><text transform="translate(1857.06 1740.7) scale(1 1.05)">48</text></g>
<g class="a" text-anchor="end"><text transform="translate(190.5 1186.2) scale(1 1.05)">0</text><text transform="translate(190.5 1335.57) scale(1 1.05)"><tspan dy="4">−</tspan><tspan dy="-4">30</tspan></text><text transform="translate(190.5 1484.93) scale(1 1.05)"><tspan dy="4">−</tspan><tspan dy="-4">60</tspan></text><text transform="translate(190.5 1634.3) scale(1 1.05)"><tspan dy="4">−</tspan><tspan dy="-4">90</tspan></text></g>
<text class="l" text-anchor="middle" transform="translate(90.2 1356.5) rotate(-90) scale(1 1.03)">North (mm)</text>
</g>
<g id="panel3">
<g class="p"><circle cx="258" cy="2325.1" r="6.4"/><circle cx="263.55" cy="2312.5" r="6.4"/><circle cx="266.33" cy="2278.9" r="6.4"/><circle cx="269.11" cy="2323.5" r="6.4"/><circle cx="271.88" cy="2338" r="6.4"/><circle cx="274.66" cy="2221.3" r="6.4"/><circle cx="277.44" cy="2280.4" r="6.4"/><circle cx="280.21" cy="2289.3" r="6.4"/><circle cx="282.99" cy="2316.9" r="6.4"/><circle cx="285.77" cy="2272.7" r="6.4"/><circle cx="288.54" cy="2240.2" r="6.4"/><circle cx="291.32" cy="2263.4" r="6.4"/><circle cx="294.1" cy="2221.3" r="6.4"/><circle cx="296.87" cy="2268.6" r="6.4"/><circle cx="299.65" cy="2314.6" r="6.4"/><circle cx="302.43" cy="2298" r="6.4"/><circle cx="305.2" cy="2248.5" r="6.4"/><circle cx="307.98" cy="2309" r="6.4"/><circle cx="310.76" cy="2226.5" r="6.4"/><circle cx="313.53" cy="2268.6" r="6.4"/><circle cx="316.31" cy="2275.8" r="6.4"/><circle cx="319.09" cy="2305.9" r="6.4"/><circle cx="321.86" cy="2276.4" r="6.4"/><circle cx="324.64" cy="2251.4" r="6.4"/><circle cx="327.42" cy="2241.6" r="6.4"/><circle cx="330.19" cy="2277.5" r="6.4"/><circle cx="332.97" cy="2306.3" r="6.4"/><circle cx="335.75" cy="2278.9" r="6.4"/><circle cx="338.52" cy="2292" r="6.4"/><circle cx="341.3" cy="2314.6" r="6.4"/><circle cx="344.08" cy="2290.7" r="6.4"/><circle cx="346.85" cy="2332.8" r="6.4"/><circle cx="349.63" cy="2322.9" r="6.4"/><circle cx="352.41" cy="2271.9" r="6.4"/><circle cx="355.18" cy="2311.7" r="6.4"/><circle cx="357.96" cy="2355" r="6.4"/><circle cx="360.74" cy="2340.5" r="6.4"/><circle cx="363.51" cy="2302.8" r="6.4"/><circle cx="366.29" cy="2321.4" r="6.4"/><circle cx="369.07" cy="2310" r="6.4"/><circle cx="371.84" cy="2293.8" r="6.4"/><circle cx="374.62" cy="2301.7" r="6.4"/><circle cx="377.4" cy="2305.9" r="6.4"/><circle cx="380.17" cy="2316.2" r="6.4"/><circle cx="382.95" cy="2331.8" r="6.4"/><circle cx="385.73" cy="2247.4" r="6.4"/><circle cx="388.5" cy="2296.1" r="6.4"/><circle cx="391.28" cy="2333.4" r="6.4"/><circle cx="394.06" cy="2333.9" r="6.4"/><circle cx="396.83" cy="2315.2" r="6.4"/><circle cx="399.61" cy="2323.1" r="6.4"/><circle cx="402.39" cy="2309" r="6.4"/><circle cx="405.16" cy="2299.7" r="6.4"/><circle cx="407.94" cy="2277.3" r="6.4"/><circle cx="410.72" cy="2300.7" r="6.4"/><circle cx="413.49" cy="2256.1" r="6.4"/><circle cx="416.27" cy="2300.7" r="6.4"/><circle cx="419.05" cy="2306.9" r="6.4"/><circle cx="421.82" cy="2347.3" r="6.4"/><circle cx="424.6" cy="2316.2" r="6.4"/><circle cx="427.38" cy="2287.8" r="6.4"/><circle cx="430.15" cy="2225" r="6.4"/><circle cx="432.93" cy="2321" r="6.4"/><circle cx="435.71" cy="2281.6" r="6.4"/><circle cx="438.48" cy="2301.1" r="6.4"/><circle cx="441.26" cy="2313.1" r="6.4"/><circle cx="444.04" cy="2275.4" r="6.4"/><circle cx="446.81" cy="2323.1" r="6.4"/><circle cx="449.59" cy="2251.4" r="6.4"/><circle cx="452.37" cy="2312.1" r="6.4"/><circle cx="455.14" cy="2368.1" r="6.4"/><circle cx="457.92" cy="2260.7" r="6.4"/><circle cx="460.7" cy="2316.2" r="6.4"/><circle cx="463.47" cy="2394.4" r="6.4"/><circle cx="466.25" cy="2253.6" r="6.4"/><circle cx="469.03" cy="2209.9" r="6.4"/><circle cx="471.8" cy="2264.4" r="6.4"/><circle cx="474.58" cy="2245.8" r="6.4"/><circle cx="477.36" cy="2256.7" r="6.4"/><circle cx="480.13" cy="2241.6" r="6.4"/><circle cx="482.91" cy="2233.7" r="6.4"/><circle cx="485.69" cy="2267.9" r="6.4"/><circle cx="488.46" cy="2281" r="6.4"/><circle cx="491.24" cy="2277.5" r="6.4"/><circle cx="494.02" cy="2234.8" r="6.4"/><circle cx="496.79" cy="2286.2" r="6.4"/><circle cx="499.57" cy="2204.7" r="6.4"/><circle cx="502.35" cy="2253" r="6.4"/><circle cx="505.12" cy="2269.6" r="6.4"/><circle cx="507.9" cy="2272.7" r="6.4"/><circle cx="510.68" cy="2247.8" r="6.4"/><circle cx="513.45" cy="2254.1" r="6.4"/><circle cx="516.23" cy="2293.4" r="6.4"/><circle cx="519.01" cy="2247.8" r="6.4"/><circle cx="521.78" cy="2292.4" r="6.4"/><circle cx="524.56" cy="2293.4" r="6.4"/><circle cx="527.34" cy="2178" r="6.4"/><circle cx="530.11" cy="2202.9" r="6.4"/><circle cx="532.89" cy="2235" r="6.4"/><circle cx="535.67" cy="2143.2" r="6.4"/><circle cx="544" cy="2277.9" r="6.4"/><circle cx="546.77" cy="2173.6" r="6.4"/><circle cx="549.55" cy="2203.9" r="6.4"/><circle cx="552.33" cy="2237.1" r="6.4"/><circle cx="555.1" cy="2229.2" r="6.4"/><circle cx="557.88" cy="2228.1" r="6.4"/><circle cx="560.66" cy="2246.4" r="6.4"/><circle cx="563.43" cy="2297.2" r="6.4"/><circle cx="566.21" cy="2229.2" r="6.4"/><circle cx="568.99" cy="2299.7" r="6.4"/><circle cx="571.76" cy="2295.5" r="6.4"/><circle cx="574.54" cy="2214.3" r="6.4"/><circle cx="577.32" cy="2401.6" r="6.4"/><circle cx="580.09" cy="2392.3" r="6.4"/><circle cx="582.87" cy="2380.5" r="6.4"/><circle cx="585.65" cy="2432.7" r="6.4"/><circle cx="588.42" cy="2416.8" r="6.4"/><circle cx="591.2" cy="2340.1" r="6.4"/><circle cx="593.98" cy="2392.9" r="6.4"/><circle cx="596.75" cy="2301.1" r="6.4"/><circle cx="599.53" cy="2340.1" r="6.4"/><circle cx="602.31" cy="2352.5" r="6.4"/><circle cx="605.08" cy="2299.2" r="6.4"/><circle cx="607.86" cy="2327.2" r="6.4"/><circle cx="610.64" cy="2341.5" r="6.4"/><circle cx="613.41" cy="2312.5" r="6.4"/><circle cx="616.19" cy="2292.4" r="6.4"/><circle cx="618.97" cy="2300.3" r="6.4"/><circle cx="621.74" cy="2265.7" r="6.4"/><circle cx="624.52" cy="2233.1" r="6.4"/><circle cx="627.3" cy="2255.1" r="6.4"/><circle cx="630.07" cy="2351.1" r="6.4"/><circle cx="632.85" cy="2303.2" r="6.4"/><circle cx="635.63" cy="2278.9" r="6.4"/><circle cx="638.4" cy="2271.7" r="6.4"/><circle cx="641.18" cy="2293.4" r="6.4"/><circle cx="643.96" cy="2234.2" r="6.4"/><circle cx="646.73" cy="2265.5" r="6.4"/><circle cx="649.51" cy="2223.6" r="6.4"/><circle cx="652.29" cy="2196.4" r="6.4"/><circle cx="655.06" cy="2246.4" r="6.4"/><circle cx="657.84" cy="2212.6" r="6.4"/><circle cx="660.62" cy="2236.4" r="6.4"/><circle cx="663.39" cy="2275.2" r="6.4"/><circle cx="666.17" cy="2224" r="6.4"/><circle cx="668.95" cy="2281" r="6.4"/><circle cx="671.72" cy="2207.8" r="6.4"/><circle cx="674.5" cy="2176.5" r="6.4"/><circle cx="677.28" cy="2312.7" r="6.4"/><circle cx="680.05" cy="2274.4" r="6.4"/><circle cx="682.83" cy="2219.4" r="6.4"/><circle cx="685.61" cy="2284.1" r="6.4"/><circle cx="688.38" cy="2316.2" r="6.4"/><circle cx="691.16" cy="2384.2" r="6.4"/><circle cx="693.94" cy="2348.4" r="6.4"/><circle cx="696.71" cy="2387.1" r="6.4"/><circle cx="699.49" cy="2385.7" r="6.4"/><circle cx="702.27" cy="2358.1" r="6.4"/><circle cx="705.04" cy="2271.9" r="6.4"/><circle cx="707.82" cy="2247.2" r="6.4"/><circle cx="710.6" cy="2294.9" r="6.4"/><circle cx="713.37" cy="2395" r="6.4"/><circle cx="716.15" cy="2313.1" r="6.4"/><circle cx="718.93" cy="2311.7" r="6.4"/><circle cx="721.7" cy="2312.7" r="6.4"/><circle cx="724.48" cy="2362.2" r="6.4"/><circle cx="727.26" cy="2302.8" r="6.4"/><circle cx="730.03" cy="2318.3" r="6.4"/><circle cx="732.81" cy="2381.5" r="6.4"/><circle cx="735.59" cy="2393.5" r="6.4"/><circle cx="738.36" cy="2374.3" r="6.4"/><circle cx="741.14" cy="2379.5" r="6.4"/><circle cx="743.92" cy="2381.9" r="6.4"/><circle cx="746.69" cy="2362.9" r="6.4"/><circle cx="749.47" cy="2386.7" r="6.4"/><circle cx="752.25" cy="2369.5" r="6.4"/><circle cx="755.02" cy="2400.6" r="6.4"/><circle cx="757.8" cy="2321" r="6.4"/><circle cx="760.58" cy="2385.7" r="6.4"/><circle cx="763.35" cy="2341.7" r="6.4"/><circle cx="766.13" cy="2354.6" r="6.4"/><circle cx="768.91" cy="2328.7" r="6.4"/><circle cx="771.68" cy="2333.4" r="6.4"/><circle cx="774.46" cy="2321.4" r="6.4"/><circle cx="777.24" cy="2311.7" r="6.4"/><circle cx="780.01" cy="2399.6" r="6.4"/><circle cx="782.79" cy="2292.6" r="6.4"/><circle cx="785.57" cy="2345.3" r="6.4"/><circle cx="788.34" cy="2350.4" r="6.4"/><circle cx="791.12" cy="2381.7" r="6.4"/><circle cx="793.9" cy="2356.7" r="6.4"/><circle cx="796.67" cy="2364.3" r="6.4"/><circle cx="799.45" cy="2345.3" r="6.4"/><circle cx="802.23" cy="2340.7" r="6.4"/><circle cx="805" cy="2346.3" r="6.4"/><circle cx="807.78" cy="2305.9" r="6.4"/><circle cx="810.56" cy="2328" r="6.4"/><circle cx="813.33" cy="2304.4" r="6.4"/><circle cx="816.11" cy="2345.3" r="6.4"/><circle cx="818.89" cy="2324.9" r="6.4"/><circle cx="821.66" cy="2301.7" r="6.4"/><circle cx="824.44" cy="2289.3" r="6.4"/><circle cx="827.22" cy="2333.9" r="6.4"/><circle cx="829.99" cy="2290.7" r="6.4"/><circle cx="832.77" cy="2326" r="6.4"/><circle cx="835.55" cy="2346.3" r="6.4"/><circle cx="838.32" cy="2291.4" r="6.4"/><circle cx="841.1" cy="2337" r="6.4"/><circle cx="843.88" cy="2316.6" r="6.4"/><circle cx="846.65" cy="2335.9" r="6.4"/><circle cx="849.43" cy="2300.1" r="6.4"/><circle cx="852.21" cy="2396" r="6.4"/><circle cx="854.98" cy="2375.9" r="6.4"/><circle cx="857.76" cy="2315.2" r="6.4"/><circle cx="860.54" cy="2311.5" r="6.4"/><circle cx="863.31" cy="2349.4" r="6.4"/><circle cx="866.09" cy="2332.4" r="6.4"/><circle cx="868.87" cy="2316.2" r="6.4"/><circle cx="871.64" cy="2304.8" r="6.4"/><circle cx="874.42" cy="2318.7" r="6.4"/><circle cx="877.2" cy="2292.4" r="6.4"/><circle cx="879.97" cy="2285.1" r="6.4"/><circle cx="882.75" cy="2294.5" r="6.4"/><circle cx="885.53" cy="2379.9" r="6.4"/><circle cx="888.3" cy="2286.2" r="6.4"/><circle cx="891.08" cy="2257.6" r="6.4"/><circle cx="893.86" cy="2312.1" r="6.4"/><circle cx="896.63" cy="2289.3" r="6.4"/><circle cx="899.41" cy="2224" r="6.4"/><circle cx="902.19" cy="2215.3" r="6.4"/><circle cx="904.96" cy="2283.1" r="6.4"/><circle cx="907.74" cy="2293.4" r="6.4"/><circle cx="910.52" cy="2285.1" r="6.4"/><circle cx="913.29" cy="2187.7" r="6.4"/><circle cx="916.07" cy="2286.6" r="6.4"/><circle cx="918.85" cy="2275.2" r="6.4"/><circle cx="921.62" cy="2238.7" r="6.4"/><circle cx="924.4" cy="2298.6" r="6.4"/><circle cx="927.18" cy="2194.6" r="6.4"/><circle cx="929.95" cy="2220.9" r="6.4"/><circle cx="932.73" cy="2274.8" r="6.4"/><circle cx="935.51" cy="2333.4" r="6.4"/><circle cx="938.28" cy="2283.7" r="6.4"/><circle cx="941.06" cy="2302.1" r="6.4"/><circle cx="943.84" cy="2421.9" r="6.4"/><circle cx="946.61" cy="2356.7" r="6.4"/><circle cx="949.39" cy="2478.3" r="6.4"/><circle cx="952.17" cy="2336.5" r="6.4"/><circle cx="954.94" cy="2334.9" r="6.4"/><circle cx="957.72" cy="2266.9" r="6.4"/><circle cx="960.5" cy="2306.3" r="6.4"/><circle cx="963.27" cy="2281.2" r="6.4"/><circle cx="966.05" cy="2332.8" r="6.4"/><circle cx="968.83" cy="2313.1" r="6.4"/><circle cx="971.6" cy="2244.7" r="6.4"/><circle cx="974.38" cy="2273.1" r="6.4"/><circle cx="977.16" cy="2281.4" r="6.4"/><circle cx="979.93" cy="2290.3" r="6.4"/><circle cx="982.71" cy="2305.5" r="6.4"/><circle cx="985.49" cy="2224.4" r="6.4"/><circle cx="988.26" cy="2304.4" r="6.4"/><circle cx="991.04" cy="2256.5" r="6.4"/><circle cx="993.82" cy="2239.3" r="6.4"/><circle cx="996.59" cy="2269" r="6.4"/><circle cx="999.37" cy="2314.2" r="6.4"/><circle cx="1002.15" cy="2334.9" r="6.4"/><circle cx="1004.92" cy="2286.8" r="6.4"/><circle cx="1007.7" cy="2336.5" r="6.4"/><circle cx="1010.48" cy="2295.9" r="6.4"/><circle cx="1013.25" cy="2217.8" r="6.4"/><circle cx="1016.03" cy="2254.7" r="6.4"/><circle cx="1018.81" cy="2288.3" r="6.4"/><circle cx="1021.58" cy="2257.6" r="6.4"/><circle cx="1024.36" cy="2260.7" r="6.4"/><circle cx="1027.14" cy="2216.7" r="6.4"/><circle cx="1029.91" cy="2317.9" r="6.4"/><circle cx="1032.69" cy="2274.8" r="6.4"/><circle cx="1035.47" cy="2300.3" r="6.4"/><circle cx="1038.24" cy="2253" r="6.4"/><circle cx="1041.02" cy="2236.4" r="6.4"/><circle cx="1043.8" cy="2242.7" r="6.4"/><circle cx="1046.57" cy="2203.3" r="6.4"/><circle cx="1060.46" cy="2198.7" r="6.4"/><circle cx="1232.61" cy="2291.4" r="6.4"/><circle cx="1235.39" cy="2369.1" r="6.4"/><circle cx="1238.16" cy="2356.7" r="6.4"/><circle cx="1240.94" cy="2227.5" r="6.4"/><circle cx="1243.72" cy="2212" r="6.4"/><circle cx="1246.49" cy="2277.7" r="6.4"/><circle cx="1249.27" cy="2231.3" r="6.4"/><circle cx="1252.05" cy="2204.7" r="6.4"/><circle cx="1254.82" cy="2181.5" r="6.4"/><circle cx="1257.6" cy="2210.1" r="6.4"/><circle cx="1260.38" cy="2209.1" r="6.4"/><circle cx="1263.15" cy="2356.2" r="6.4"/><circle cx="1265.93" cy="2358.7" r="6.4"/><circle cx="1268.71" cy="2283.7" r="6.4"/><circle cx="1271.48" cy="2293.4" r="6.4"/><circle cx="1274.26" cy="2322.9" r="6.4"/><circle cx="1277.04" cy="2288.3" r="6.4"/><circle cx="1279.81" cy="2359.3" r="6.4"/><circle cx="1282.59" cy="2377.8" r="6.4"/><circle cx="1285.37" cy="2333.9" r="6.4"/><circle cx="1288.14" cy="2334.3" r="6.4"/><circle cx="1290.92" cy="2354.6" r="6.4"/><circle cx="1293.7" cy="2308.6" r="6.4"/><circle cx="1296.47" cy="2362.9" r="6.4"/><circle cx="1299.25" cy="2365.4" r="6.4"/><circle cx="1302.03" cy="2402.9" r="6.4"/><circle cx="1304.8" cy="2412.6" r="6.4"/><circle cx="1307.58" cy="2430.9" r="6.4"/><circle cx="1310.36" cy="2363.3" r="6.4"/><circle cx="1313.13" cy="2374.3" r="6.4"/><circle cx="1315.91" cy="2263.4" r="6.4"/><circle cx="1318.69" cy="2281" r="6.4"/><circle cx="1321.46" cy="2290.9" r="6.4"/><circle cx="1324.24" cy="2251.4" r="6.4"/><circle cx="1327.02" cy="2280" r="6.4"/><circle cx="1329.79" cy="2282" r="6.4"/><circle cx="1332.57" cy="2295.5" r="6.4"/><circle cx="1335.35" cy="2255.1" r="6.4"/><circle cx="1338.12" cy="2284.1" r="6.4"/><circle cx="1340.9" cy="2261.9" r="6.4"/><circle cx="1343.68" cy="2295.1" r="6.4"/><circle cx="1346.45" cy="2301.7" r="6.4"/><circle cx="1349.23" cy="2297.6" r="6.4"/><circle cx="1352.01" cy="2269.2" r="6.4"/><circle cx="1354.78" cy="2235" r="6.4"/><circle cx="1357.56" cy="2296.5" r="6.4"/><circle cx="1360.34" cy="2286.2" r="6.4"/><circle cx="1363.11" cy="2278.9" r="6.4"/><circle cx="1365.89" cy="2287.2" r="6.4"/><circle cx="1368.67" cy="2345.7" r="6.4"/><circle cx="1371.44" cy="2332.2" r="6.4"/><circle cx="1374.22" cy="2271.7" r="6.4"/><circle cx="1377" cy="2199.3" r="6.4"/><circle cx="1379.77" cy="2119.7" r="6.4"/><circle cx="1382.55" cy="2341.5" r="6.4"/><circle cx="1385.33" cy="2309.4" r="6.4"/><circle cx="1388.1" cy="2327.6" r="6.4"/><circle cx="1390.88" cy="2328" r="6.4"/><circle cx="1393.66" cy="2303.8" r="6.4"/><circle cx="1396.43" cy="2299.7" r="6.4"/><circle cx="1399.21" cy="2311.1" r="6.4"/><circle cx="1401.99" cy="2316.6" r="6.4"/><circle cx="1404.76" cy="2335.9" r="6.4"/><circle cx="1407.54" cy="2341.1" r="6.4"/><circle cx="1410.32" cy="2371.2" r="6.4"/><circle cx="1413.09" cy="2343.6" r="6.4"/><circle cx="1415.87" cy="2304.2" r="6.4"/><circle cx="1418.65" cy="2312.1" r="6.4"/><circle cx="1421.42" cy="2320.4" r="6.4"/><circle cx="1424.2" cy="2281" r="6.4"/><circle cx="1426.98" cy="2319.3" r="6.4"/><circle cx="1429.75" cy="2327.6" r="6.4"/><circle cx="1432.53" cy="2328.7" r="6.4"/><circle cx="1435.31" cy="2301.7" r="6.4"/><circle cx="1438.08" cy="2321.8" r="6.4"/><circle cx="1440.86" cy="2335.5" r="6.4"/><circle cx="1443.64" cy="2305.9" r="6.4"/><circle cx="1446.41" cy="2324.5" r="6.4"/><circle cx="1449.19" cy="2274.4" r="6.4"/><circle cx="1451.97" cy="2314.2" r="6.4"/><circle cx="1454.74" cy="2320.8" r="6.4"/><circle cx="1457.52" cy="2304.2" r="6.4"/><circle cx="1460.3" cy="2247.2" r="6.4"/><circle cx="1463.07" cy="2229.8" r="6.4"/><circle cx="1465.85" cy="2237.5" r="6.4"/><circle cx="1468.63" cy="2280" r="6.4"/><circle cx="1471.4" cy="2222.1" r="6.4"/><circle cx="1474.18" cy="2274.4" r="6.4"/><circle cx="1476.96" cy="2331.8" r="6.4"/><circle cx="1479.73" cy="2250.9" r="6.4"/><circle cx="1482.51" cy="2278.3" r="6.4"/><circle cx="1485.29" cy="2327" r="6.4"/><circle cx="1488.06" cy="2277.9" r="6.4"/><circle cx="1490.84" cy="2281.4" r="6.4"/><circle cx="1493.62" cy="2328" r="6.4"/><circle cx="1496.39" cy="2367.2" r="6.4"/><circle cx="1499.17" cy="2326.6" r="6.4"/><circle cx="1501.95" cy="2321.4" r="6.4"/><circle cx="1504.72" cy="2325.6" r="6.4"/><circle cx="1507.5" cy="2316.2" r="6.4"/><circle cx="1510.28" cy="2304.2" r="6.4"/><circle cx="1513.05" cy="2378.8" r="6.4"/><circle cx="1515.83" cy="2340.5" r="6.4"/><circle cx="1518.61" cy="2320.8" r="6.4"/><circle cx="1521.38" cy="2305.2" r="6.4"/><circle cx="1524.16" cy="2310.4" r="6.4"/><circle cx="1526.94" cy="2315.2" r="6.4"/><circle cx="1529.71" cy="2305.2" r="6.4"/><circle cx="1532.49" cy="2316.2" r="6.4"/><circle cx="1535.27" cy="2322.5" r="6.4"/><circle cx="1538.04" cy="2297.2" r="6.4"/><circle cx="1540.82" cy="2317.3" r="6.4"/><circle cx="1543.6" cy="2336.5" r="6.4"/><circle cx="1546.37" cy="2291.4" r="6.4"/><circle cx="1549.15" cy="2320" r="6.4"/><circle cx="1551.93" cy="2256.3" r="6.4"/><circle cx="1554.7" cy="2347.7" r="6.4"/><circle cx="1557.48" cy="2297.6" r="6.4"/><circle cx="1560.26" cy="2296.5" r="6.4"/><circle cx="1563.03" cy="2282" r="6.4"/><circle cx="1565.81" cy="2292.4" r="6.4"/><circle cx="1568.59" cy="2320.4" r="6.4"/><circle cx="1571.36" cy="2288.3" r="6.4"/><circle cx="1574.14" cy="2224.6" r="6.4"/><circle cx="1576.92" cy="2274.8" r="6.4"/><circle cx="1579.69" cy="2254.1" r="6.4"/><circle cx="1582.47" cy="2255.7" r="6.4"/><circle cx="1585.25" cy="2235.4" r="6.4"/><circle cx="1588.02" cy="2241.6" r="6.4"/><circle cx="1590.8" cy="2236.4" r="6.4"/><circle cx="1593.58" cy="2266.5" r="6.4"/><circle cx="1596.35" cy="2218.6" r="6.4"/><circle cx="1599.13" cy="2231.9" r="6.4"/><circle cx="1601.91" cy="2273.7" r="6.4"/><circle cx="1604.68" cy="2248.9" r="6.4"/><circle cx="1607.46" cy="2224" r="6.4"/><circle cx="1610.24" cy="2233.3" r="6.4"/><circle cx="1613.01" cy="2201.8" r="6.4"/><circle cx="1615.79" cy="2188.3" r="6.4"/><circle cx="1618.57" cy="2288.7" r="6.4"/><circle cx="1621.34" cy="2189.4" r="6.4"/><circle cx="1624.12" cy="2264" r="6.4"/><circle cx="1626.9" cy="2211.6" r="6.4"/><circle cx="1629.67" cy="2218.8" r="6.4"/><circle cx="1632.45" cy="2239.5" r="6.4"/><circle cx="1635.23" cy="2293" r="6.4"/><circle cx="1638" cy="2269" r="6.4"/><circle cx="1640.78" cy="2287.8" r="6.4"/><circle cx="1643.56" cy="2277.5" r="6.4"/><circle cx="1646.33" cy="2336.5" r="6.4"/><circle cx="1649.11" cy="2380.5" r="6.4"/><circle cx="1651.89" cy="2305.9" r="6.4"/><circle cx="1654.66" cy="2345.7" r="6.4"/><circle cx="1657.44" cy="2259.9" r="6.4"/><circle cx="1660.22" cy="2367" r="6.4"/><circle cx="1662.99" cy="2342.6" r="6.4"/><circle cx="1665.77" cy="2333.2" r="6.4"/><circle cx="1668.55" cy="2302.8" r="6.4"/><circle cx="1671.32" cy="2341.5" r="6.4"/><circle cx="1674.1" cy="2315.2" r="6.4"/><circle cx="1676.88" cy="2325.6" r="6.4"/><circle cx="1679.65" cy="2285.1" r="6.4"/><circle cx="1682.43" cy="2283.1" r="6.4"/><circle cx="1685.21" cy="2314.6" r="6.4"/><circle cx="1687.98" cy="2255.7" r="6.4"/><circle cx="1690.76" cy="2263.8" r="6.4"/><circle cx="1693.54" cy="2264.4" r="6.4"/><circle cx="1696.31" cy="2240.6" r="6.4"/><circle cx="1699.09" cy="2235" r="6.4"/><circle cx="1701.87" cy="2268.1" r="6.4"/><circle cx="1704.64" cy="2233.7" r="6.4"/><circle cx="1707.42" cy="2217.4" r="6.4"/><circle cx="1710.2" cy="2211.6" r="6.4"/><circle cx="1712.97" cy="2230.2" r="6.4"/><circle cx="1715.75" cy="2249.3" r="6.4"/><circle cx="1718.53" cy="2277.3" r="6.4"/><circle cx="1721.3" cy="2292.4" r="6.4"/><circle cx="1724.08" cy="2254.5" r="6.4"/><circle cx="1726.86" cy="2260.3" r="6.4"/><circle cx="1729.63" cy="2274.4" r="6.4"/><circle cx="1732.41" cy="2322.5" r="6.4"/><circle cx="1735.19" cy="2264.8" r="6.4"/><circle cx="1737.96" cy="2376.3" r="6.4"/><circle cx="1740.74" cy="2326.6" r="6.4"/><circle cx="1743.52" cy="2356.7" r="6.4"/><circle cx="1746.29" cy="2344.2" r="6.4"/><circle cx="1749.07" cy="2266.1" r="6.4"/><circle cx="1751.85" cy="2225" r="6.4"/><circle cx="1754.62" cy="2238.5" r="6.4"/><circle cx="1757.4" cy="2305.9" r="6.4"/><circle cx="1760.18" cy="2285.6" r="6.4"/><circle cx="1762.95" cy="2318.3" r="6.4"/><circle cx="1765.73" cy="2361.4" r="6.4"/><circle cx="1768.51" cy="2275.2" r="6.4"/><circle cx="1771.28" cy="2344.2" r="6.4"/><circle cx="1774.06" cy="2273.3" r="6.4"/><circle cx="1776.84" cy="2319.8" r="6.4"/><circle cx="1779.61" cy="2351.1" r="6.4"/><circle cx="1782.39" cy="2264.4" r="6.4"/><circle cx="1785.17" cy="2298.2" r="6.4"/><circle cx="1787.94" cy="2372.2" r="6.4"/><circle cx="1790.72" cy="2263.4" r="6.4"/><circle cx="1793.5" cy="2330.3" r="6.4"/><circle cx="1796.27" cy="2374.7" r="6.4"/><circle cx="1799.05" cy="2307.3" r="6.4"/><circle cx="1801.83" cy="2351.5" r="6.4"/><circle cx="1804.6" cy="2336.5" r="6.4"/><circle cx="1807.38" cy="2380.9" r="6.4"/><circle cx="1810.16" cy="2354.6" r="6.4"/><circle cx="1812.93" cy="2340.1" r="6.4"/><circle cx="1815.71" cy="2359.8" r="6.4"/><circle cx="1818.49" cy="2334.5" r="6.4"/><circle cx="1821.26" cy="2310.6" r="6.4"/><circle cx="1824.04" cy="2319.3" r="6.4"/><circle cx="1826.82" cy="2353.5" r="6.4"/><circle cx="1829.59" cy="2381.5" r="6.4"/><circle cx="1832.37" cy="2387.7" r="6.4"/><circle cx="1835.15" cy="2360.2" r="6.4"/><circle cx="1837.92" cy="2360.2" r="6.4"/><circle cx="1840.7" cy="2346.3" r="6.4"/><circle cx="1843.48" cy="2387.3" r="6.4"/><circle cx="1846.25" cy="2380.1" r="6.4"/><circle cx="1849.03" cy="2412.2" r="6.4"/><circle cx="1851.81" cy="2429.8" r="6.4"/><circle cx="1057.68" cy="2000.7" r="6.4"/><circle cx="1063.23" cy="1925.5" r="6.4"/><circle cx="1066.01" cy="1865.4" r="6.4"/><circle cx="1068.79" cy="1898.9" r="6.4"/><circle cx="1071.56" cy="1965.3" r="6.4"/><circle cx="1074.34" cy="2042" r="6.4"/><circle cx="1077.12" cy="2074.1" r="6.4"/><circle cx="1079.89" cy="2040.1" r="6.4"/><circle cx="1082.67" cy="2008.8" r="6.4"/><circle cx="1085.45" cy="2174.2" r="6.4"/><circle cx="1088.22" cy="1974.6" r="6.4"/><circle cx="1091" cy="2110.6" r="6.4"/><circle cx="1093.78" cy="2100.6" r="6.4"/><circle cx="1096.55" cy="2094.4" r="6.4"/><circle cx="1099.33" cy="2202.2" r="6.4"/><circle cx="1102.11" cy="2158" r="6.4"/><circle cx="1104.88" cy="2179" r="6.4"/><circle cx="1107.66" cy="2102.7" r="6.4"/><circle cx="1110.44" cy="2120.3" r="6.4"/><circle cx="1113.21" cy="2225.4" r="6.4"/><circle cx="1115.99" cy="2238.5" r="6.4"/><circle cx="1118.77" cy="2166.9" r="6.4"/><circle cx="1121.54" cy="2189.7" r="6.4"/><circle cx="1124.32" cy="2180.8" r="6.4"/><circle cx="1127.1" cy="2182.5" r="6.4"/><circle cx="1129.87" cy="2188.7" r="6.4"/><circle cx="1132.65" cy="2186.6" r="6.4"/><circle cx="1135.43" cy="2205.9" r="6.4"/><circle cx="1138.2" cy="2203.2" r="6.4"/></g>
<path class="k" d="M258 1853v-19M258 2491v19M291.32 1853v-9.8M291.32 2491v9.8M324.64 1853v-19M324.64 2491v19M357.96 1853v-9.8M357.96 2491v9.8M391.28 1853v-19M391.28 2491v19M424.6 1853v-9.8M424.6 2491v9.8M457.92 1853v-19M457.92 2491v19M491.24 1853v-9.8M491.24 2491v9.8M524.56 1853v-19M524.56 2491v19M557.88 1853v-9.8M557.88 2491v9.8M591.2 1853v-19M591.2 2491v19M624.52 1853v-9.8M624.52 2491v9.8M657.84 1853v-19M657.84 2491v19M691.16 1853v-9.8M691.16 2491v9.8M724.48 1853v-19M724.48 2491v19M757.8 1853v-9.8M757.8 2491v9.8M791.12 1853v-19M791.12 2491v19M824.44 1853v-9.8M824.44 2491v9.8M857.76 1853v-19M857.76 2491v19M891.08 1853v-9.8M891.08 2491v9.8M924.4 1853v-19M924.4 2491v19M957.72 1853v-9.8M957.72 2491v9.8M991.04 1853v-19M991.04 2491v19M1024.36 1853v-9.8M1024.36 2491v9.8M1057.68 1853v-19M1057.68 2491v19M1091 1853v-9.8M1091 2491v9.8M1124.32 1853v-19M1124.32 2491v19M1157.64 1853v-9.8M1157.64 2491v9.8M1190.96 1853v-19M1190.96 2491v19M1224.28 1853v-9.8M1224.28 2491v9.8M1257.6 1853v-19M1257.6 2491v19M1290.92 1853v-9.8M1290.92 2491v9.8M1324.24 1853v-19M1324.24 2491v19M1357.56 1853v-9.8M1357.56 2491v9.8M1390.88 1853v-19M1390.88 2491v19M1424.2 1853v-9.8M1424.2 2491v9.8M1457.52 1853v-19M1457.52 2491v19M1490.84 1853v-9.8M1490.84 2491v9.8M1524.16 1853v-19M1524.16 2491v19M1557.48 1853v-9.8M1557.48 2491v9.8M1590.8 1853v-19M1590.8 2491v19M1624.12 1853v-9.8M1624.12 2491v9.8M1657.44 1853v-19M1657.44 2491v19M1690.76 1853v-9.8M1690.76 2491v9.8M1724.08 1853v-19M1724.08 2491v19M1757.4 1853v-9.8M1757.4 2491v9.8M1790.72 1853v-19M1790.72 2491v19M1824.04 1853v-9.8M1824.04 2491v9.8M1857.36 1853v-19M1857.36 2491v19M226 1903.2h-19M1883.6 1903.2h19M226 2044.1h-19M1883.6 2044.1h19M226 2185h-19M1883.6 2185h19M226 2325.9h-19M1883.6 2325.9h19M226 2466.8h-19M1883.6 2466.8h19"/>
<rect class="fr" x="226" y="1853" width="1657.6" height="638"/>
<g class="a" text-anchor="middle"><text transform="translate(257.7 2556.7) scale(1 1.05)">0</text><text transform="translate(324.34 2556.7) scale(1 1.05)">2</text><text transform="translate(390.98 2556.7) scale(1 1.05)">4</text><text transform="translate(457.62 2556.7) scale(1 1.05)">6</text><text transform="translate(524.26 2556.7) scale(1 1.05)">8</text><text transform="translate(590.9 2556.7) scale(1 1.05)">10</text><text transform="translate(657.54 2556.7) scale(1 1.05)">12</text><text transform="translate(724.18 2556.7) scale(1 1.05)">14</text><text transform="translate(790.82 2556.7) scale(1 1.05)">16</text><text transform="translate(857.46 2556.7) scale(1 1.05)">18</text><text transform="translate(924.1 2556.7) scale(1 1.05)">20</text><text transform="translate(990.74 2556.7) scale(1 1.05)">22</text><text transform="translate(1057.38 2556.7) scale(1 1.05)">24</text><text transform="translate(1124.02 2556.7) scale(1 1.05)">26</text><text transform="translate(1190.66 2556.7) scale(1 1.05)">28</text><text transform="translate(1257.3 2556.7) scale(1 1.05)">30</text><text transform="translate(1323.94 2556.7) scale(1 1.05)">32</text><text transform="translate(1390.58 2556.7) scale(1 1.05)">34</text><text transform="translate(1457.22 2556.7) scale(1 1.05)">36</text><text transform="translate(1523.86 2556.7) scale(1 1.05)">38</text><text transform="translate(1590.5 2556.7) scale(1 1.05)">40</text><text transform="translate(1657.14 2556.7) scale(1 1.05)">42</text><text transform="translate(1723.78 2556.7) scale(1 1.05)">44</text><text transform="translate(1790.42 2556.7) scale(1 1.05)">46</text><text transform="translate(1857.06 2556.7) scale(1 1.05)">48</text></g>
<g class="a" text-anchor="end"><text transform="translate(190.5 1919) scale(1 1.05)">150</text><text transform="translate(190.5 2059.9) scale(1 1.05)">100</text><text transform="translate(190.5 2200.8) scale(1 1.05)">50</text><text transform="translate(190.5 2341.7) scale(1 1.05)">0</text><text transform="translate(190.5 2482.6) scale(1 1.05)"><tspan dy="4">−</tspan><tspan dy="-4">50</tspan></text></g>
<text class="l" text-anchor="middle" transform="translate(90.2 2172.5) rotate(-90) scale(1 1.03)">Up (mm)</text>
</g>
<text class="l" text-anchor="middle" transform="translate(1053.8 2615.6) scale(1 1.03)">Time (hours since beginning of first day UTC)</text>
<rect class="fr" x="226" y="2720" width="1657.6" height="153"/>
<g class="a" text-anchor="middle"><text transform="translate(1055.3 2759) scale(1 1.03)">Processed Using JPL Rapid Orbits</text><text transform="translate(1054.8 2799.4) scale(1 1.03)">by the Nevada Geodetic Laboratory.</text><text transform="translate(1055.4 2840) scale(1 1.03)">Plotted on 2026-Jan-5.</text></g>
</svg>
</body></html>
